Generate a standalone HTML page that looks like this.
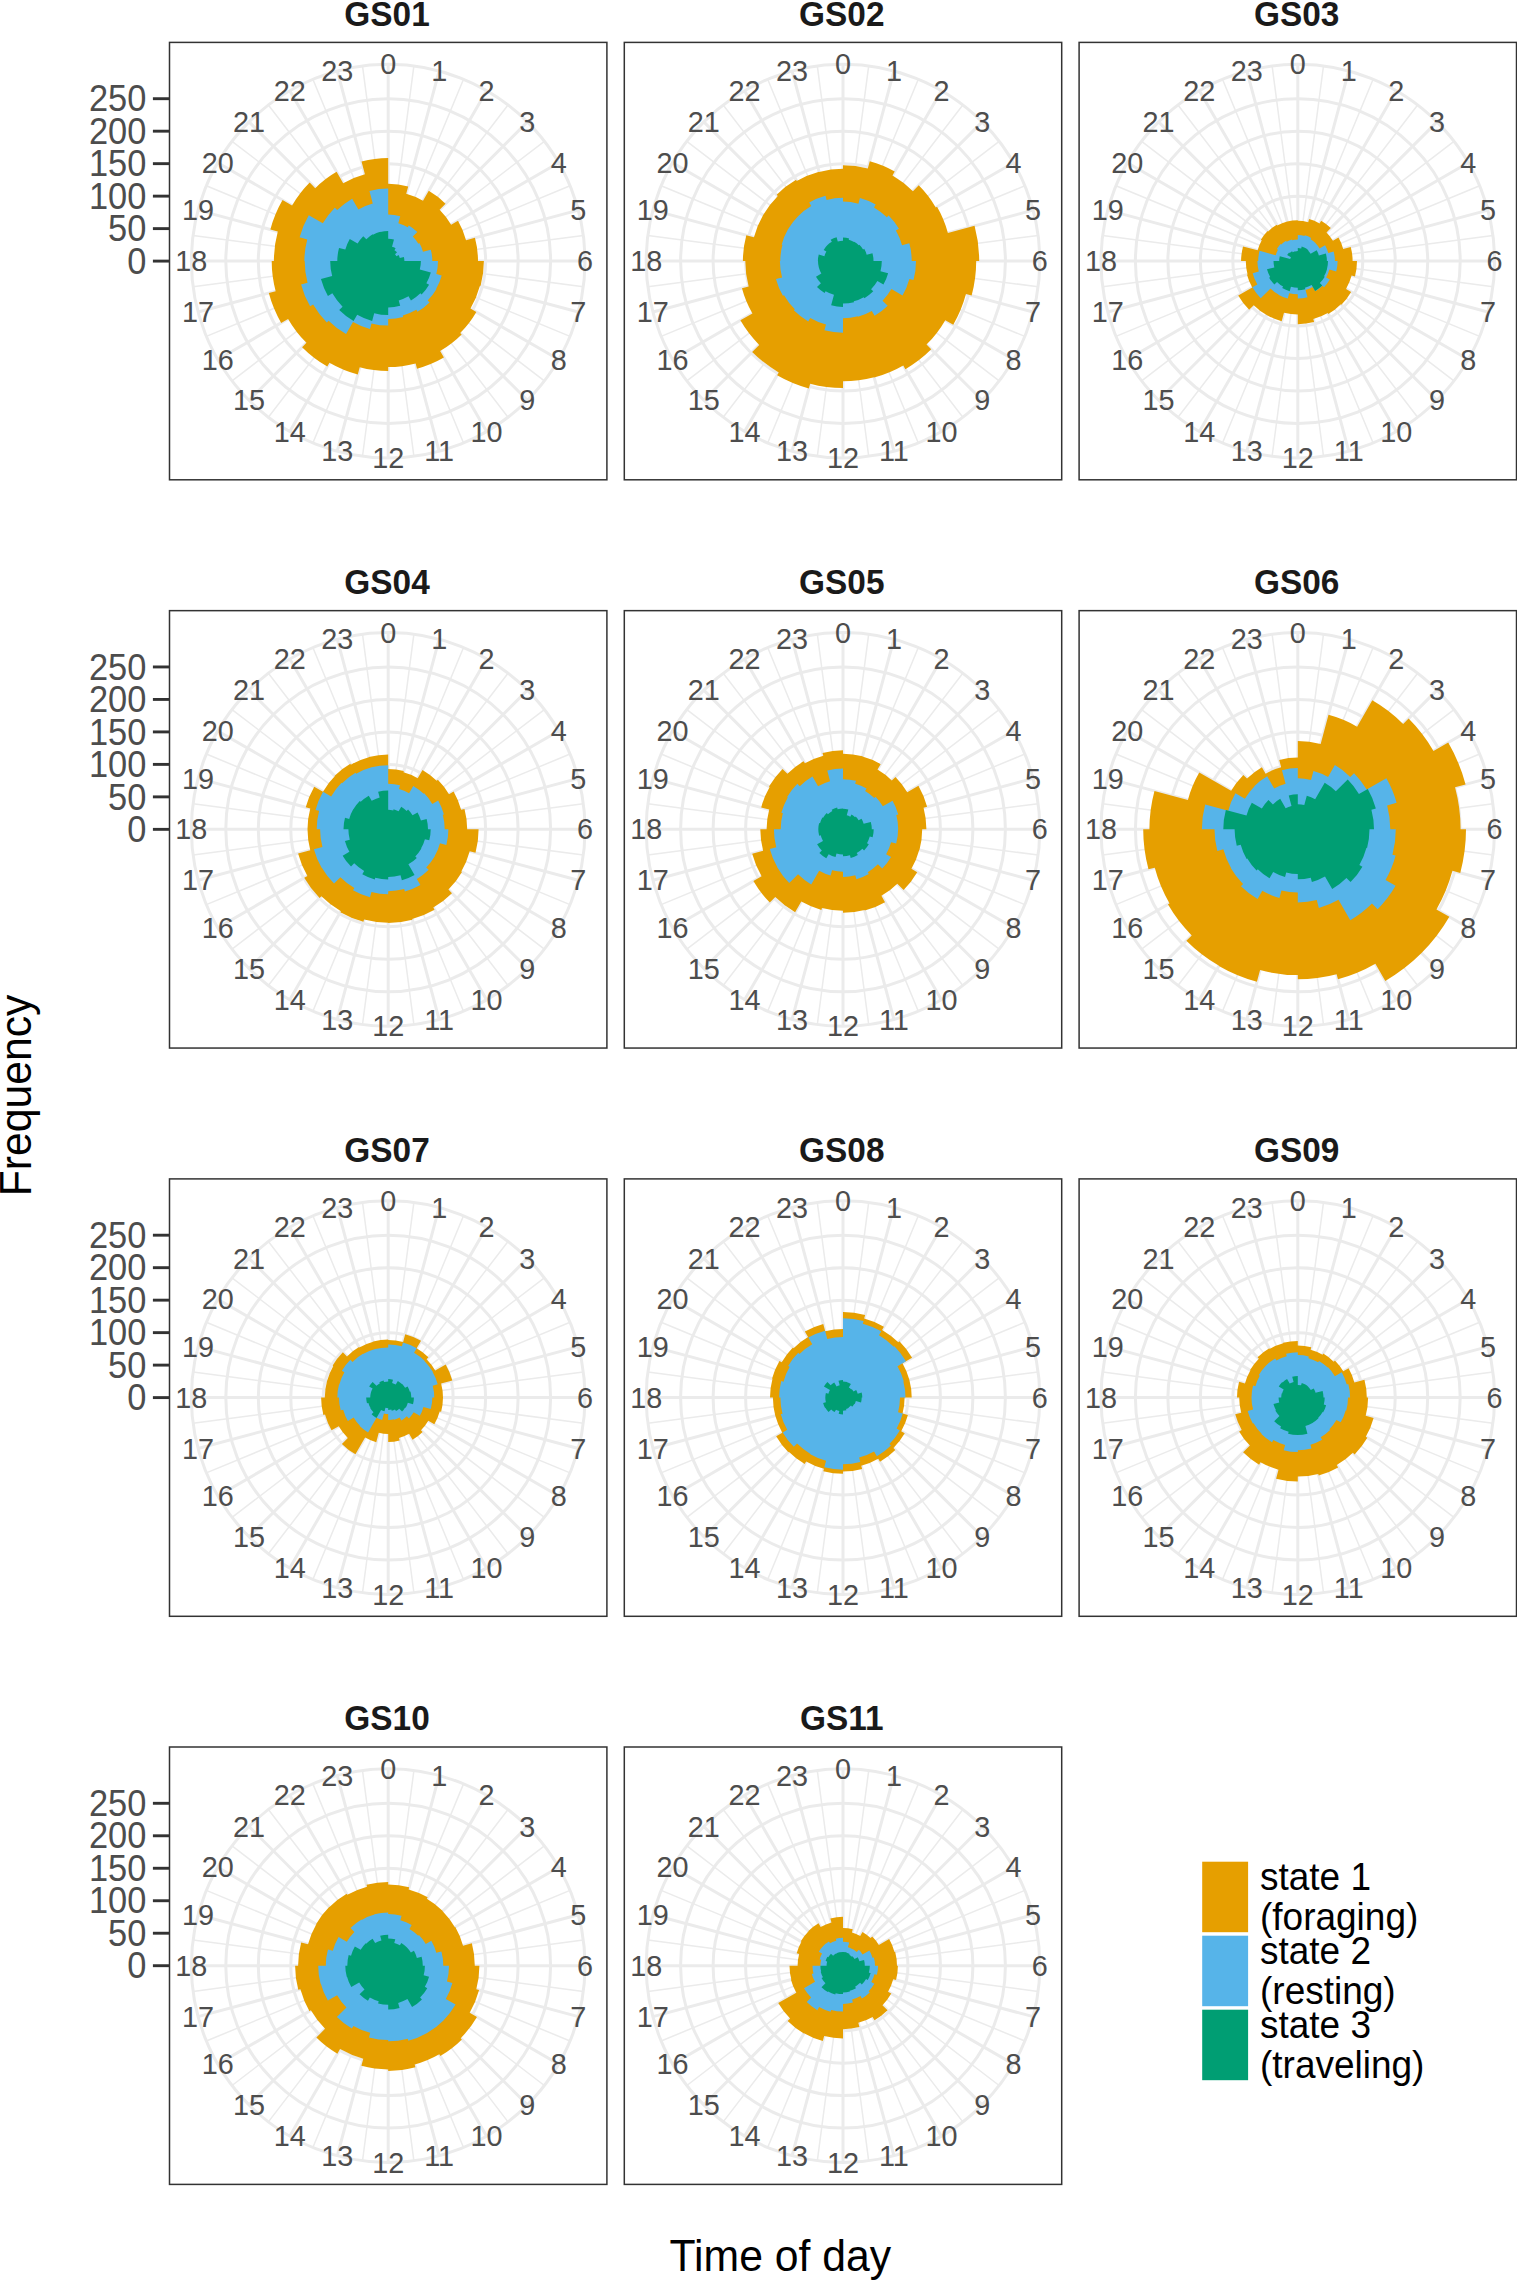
<!DOCTYPE html>
<html><head><meta charset="utf-8"><title>Activity budgets by time of day</title>
<style>
html,body{margin:0;padding:0;background:#fff}
svg{display:block}
text{font-family:"Liberation Sans",Arial,Helvetica,sans-serif}
.th{font-size:28.8px;fill:#4D4D4D;text-anchor:middle}
.ay{font-size:34.4px;fill:#4D4D4D;text-anchor:end}
.st{font-size:33.4px;font-weight:bold;fill:#1A1A1A;text-anchor:middle}
.at{font-size:42.7px;fill:#000;text-anchor:middle}
.lg{font-size:37px;fill:#000}
.gM{stroke:#EBEBEB;stroke-width:3;fill:none}
.gm{stroke:#EBEBEB;stroke-width:1.5;fill:none}
.tk{stroke:#333;stroke-width:2.9}
.bd{stroke:#333;stroke-width:1.5;fill:none}
</style></head><body>
<svg width="1517" height="2280" viewBox="0 0 1517 2280">
<rect width="1517" height="2280" fill="#fff"/>
<g id="GS01">
<g class="gM"><circle cx="388.2" cy="261.1" r="32.48"/><circle cx="388.2" cy="261.1" r="64.96"/><circle cx="388.2" cy="261.1" r="97.44"/><circle cx="388.2" cy="261.1" r="129.92"/><circle cx="388.2" cy="261.1" r="162.4"/><circle cx="388.2" cy="261.1" r="196.83"/><path d="M388.2 261.1L388.2 64.27M388.2 261.1L439.14 70.98M388.2 261.1L486.61 90.64M388.2 261.1L527.38 121.92M388.2 261.1L558.66 162.68M388.2 261.1L578.32 210.16M388.2 261.1L585.03 261.1M388.2 261.1L578.32 312.04M388.2 261.1L558.66 359.51M388.2 261.1L527.38 400.28M388.2 261.1L486.61 431.56M388.2 261.1L439.14 451.22M388.2 261.1L388.2 457.93M388.2 261.1L337.26 451.22M388.2 261.1L289.78 431.56M388.2 261.1L249.02 400.28M388.2 261.1L217.74 359.52M388.2 261.1L198.08 312.04M388.2 261.1L191.37 261.1M388.2 261.1L198.08 210.16M388.2 261.1L217.74 162.68M388.2 261.1L249.02 121.92M388.2 261.1L289.78 90.64M388.2 261.1L337.26 70.98"/></g>
<path class="gm" d="M388.2 261.1L413.89 65.95M388.2 261.1L463.52 79.25M388.2 261.1L508.02 104.94M388.2 261.1L544.36 141.28M388.2 261.1L570.05 185.78M388.2 261.1L583.35 235.41M388.2 261.1L583.35 286.79M388.2 261.1L570.05 336.42M388.2 261.1L544.36 380.92M388.2 261.1L508.02 417.26M388.2 261.1L463.52 442.95M388.2 261.1L413.89 456.25M388.2 261.1L362.51 456.25M388.2 261.1L312.88 442.95M388.2 261.1L268.38 417.26M388.2 261.1L232.04 380.92M388.2 261.1L206.35 336.42M388.2 261.1L193.05 286.79M388.2 261.1L193.05 235.41M388.2 261.1L206.35 185.78M388.2 261.1L232.04 141.28M388.2 261.1L268.38 104.94M388.2 261.1L312.88 79.25M388.2 261.1L362.51 65.95"/>
<path fill="#E69F00" d="M388.2 183.8A77.3 77.3 0 0 1 408.21 186.43L406.21 193.87A69.6 69.6 0 0 1 423 200.82L428.75 190.87A81.1 81.1 0 0 1 445.55 203.75L439.61 209.69A72.7 72.7 0 0 1 451.16 224.75L458 220.8A80.6 80.6 0 0 1 466.05 240.24L474.94 237.86A89.8 89.8 0 0 1 478 261.1L483.9 261.1A95.7 95.7 0 0 1 480.64 285.87L479.96 285.69A95 95 0 0 1 470.47 308.6L476.36 312A101.8 101.8 0 0 1 460.18 333.08L461.67 334.57A103.9 103.9 0 0 1 440.15 351.08L443.9 357.58A111.4 111.4 0 0 1 417.03 368.7L415.63 363.49A106 106 0 0 1 388.2 367.1L388.2 371.1A110 110 0 0 1 359.73 367.35L357.79 374.6A117.5 117.5 0 0 1 329.45 362.86L327.3 366.58A121.8 121.8 0 0 1 302.07 347.23L306.46 342.84A115.6 115.6 0 0 1 288.09 318.9L281.16 322.9A123.6 123.6 0 0 1 268.81 293.09L275.67 291.25A116.5 116.5 0 0 1 271.7 261.1L273.9 261.1A114.3 114.3 0 0 1 277.79 231.52L270.36 229.52A122 122 0 0 1 282.54 200.1L292.07 205.6A111 111 0 0 1 309.71 182.61L315.23 188.13A103.2 103.2 0 0 1 336.6 171.73L343.2 183.16A90 90 0 0 1 364.91 174.17L361.52 161.51A103.1 103.1 0 0 1 388.2 158L388.2 261.1Z"/>
<path fill="#56B4E9" d="M388.2 214.6A46.5 46.5 0 0 1 400.24 216.18L398.32 223.33A39.1 39.1 0 0 1 407.75 227.24L408.8 225.42A41.2 41.2 0 0 1 417.33 231.97L412.81 236.49A34.8 34.8 0 0 1 418.34 243.7L419.38 243.1A36 36 0 0 1 422.97 251.78L430.8 249.69A44.1 44.1 0 0 1 432.3 261.1L438 261.1A49.8 49.8 0 0 1 436.3 273.99L441.71 275.44A55.4 55.4 0 0 1 436.18 288.8L436.52 289A55.8 55.8 0 0 1 427.66 300.56L429.57 302.47A58.5 58.5 0 0 1 417.45 311.76L416.35 309.86A56.3 56.3 0 0 1 402.77 315.48L403.19 317.03A57.9 57.9 0 0 1 388.2 319L388.2 325.6A64.5 64.5 0 0 1 371.51 323.4L369.98 329.1A70.4 70.4 0 0 1 353 322.07L346.05 334.11A84.3 84.3 0 0 1 328.59 320.71L326.89 322.41A86.7 86.7 0 0 1 313.12 304.45L310.08 306.2A90.2 90.2 0 0 1 301.07 284.45L307.55 282.71A83.5 83.5 0 0 1 304.7 261.1L304.4 261.1A83.8 83.8 0 0 1 307.26 239.41L299.62 237.37A91.7 91.7 0 0 1 308.79 215.25L322.82 223.35A75.5 75.5 0 0 1 334.81 207.71L337.22 210.12A72.1 72.1 0 0 1 352.15 198.66L358.4 209.48A59.6 59.6 0 0 1 372.77 203.53L369.44 191.07A72.5 72.5 0 0 1 388.2 188.6L388.2 261.1Z"/>
<path fill="#009E73" d="M388.2 238.8A22.3 22.3 0 0 1 393.97 239.56L392.03 246.8A14.8 14.8 0 0 1 395.6 248.28L394.45 250.27A12.5 12.5 0 0 1 397.04 252.26L394.99 254.31A9.6 9.6 0 0 1 396.51 256.3L398.59 255.1A12 12 0 0 1 399.79 257.99L403.85 256.91A16.2 16.2 0 0 1 404.4 261.1L420.9 261.1A32.7 32.7 0 0 1 419.79 269.56L430.8 272.51A44.1 44.1 0 0 1 426.39 283.15L429.08 284.7A47.2 47.2 0 0 1 421.58 294.48L420.37 293.27A45.5 45.5 0 0 1 410.95 300.5L408.55 296.35A40.7 40.7 0 0 1 398.73 300.41L400.18 305.82A46.3 46.3 0 0 1 388.2 307.4L388.2 315.1A54 54 0 0 1 374.22 313.26L372.15 320.99A62 62 0 0 1 357.2 314.79L353.55 321.12A69.3 69.3 0 0 1 339.2 310.1L342.59 306.71A64.5 64.5 0 0 1 332.34 293.35L327.92 295.9A69.6 69.6 0 0 1 320.97 279.11L332.18 276.11A58 58 0 0 1 330.2 261.1L337.3 261.1A50.9 50.9 0 0 1 339.03 247.93L345.31 249.61A44.4 44.4 0 0 1 349.75 238.9L357.63 243.45A35.3 35.3 0 0 1 363.24 236.14L366.35 239.25A30.9 30.9 0 0 1 372.75 234.34L372.95 234.69A30.5 30.5 0 0 1 380.31 231.64L380.38 231.93A30.2 30.2 0 0 1 388.2 230.9L388.2 261.1Z"/>
<text class="th" transform="translate(388.2,74.37) scale(1,1.04)">0</text><text class="th" transform="translate(439.14,81.08) scale(1,1.04)">1</text><text class="th" transform="translate(486.61,100.74) scale(1,1.04)">2</text><text class="th" transform="translate(527.38,132.02) scale(1,1.04)">3</text><text class="th" transform="translate(558.66,172.78) scale(1,1.04)">4</text><text class="th" transform="translate(578.32,220.26) scale(1,1.04)">5</text><text class="th" transform="translate(585.03,271.2) scale(1,1.04)">6</text><text class="th" transform="translate(578.32,322.14) scale(1,1.04)">7</text><text class="th" transform="translate(558.66,369.61) scale(1,1.04)">8</text><text class="th" transform="translate(527.38,410.38) scale(1,1.04)">9</text><text class="th" transform="translate(486.61,441.66) scale(1,1.04)">10</text><text class="th" transform="translate(439.14,461.32) scale(1,1.04)">11</text><text class="th" transform="translate(388.2,468.03) scale(1,1.04)">12</text><text class="th" transform="translate(337.26,461.32) scale(1,1.04)">13</text><text class="th" transform="translate(289.78,441.66) scale(1,1.04)">14</text><text class="th" transform="translate(249.02,410.38) scale(1,1.04)">15</text><text class="th" transform="translate(217.74,369.62) scale(1,1.04)">16</text><text class="th" transform="translate(198.08,322.14) scale(1,1.04)">17</text><text class="th" transform="translate(191.37,271.2) scale(1,1.04)">18</text><text class="th" transform="translate(198.08,220.26) scale(1,1.04)">19</text><text class="th" transform="translate(217.74,172.78) scale(1,1.04)">20</text><text class="th" transform="translate(249.02,132.02) scale(1,1.04)">21</text><text class="th" transform="translate(289.78,100.74) scale(1,1.04)">22</text><text class="th" transform="translate(337.26,81.08) scale(1,1.04)">23</text>
<rect class="bd" x="169.5" y="42.4" width="437.4" height="437.4"/>
<text class="st" transform="translate(387,25.8) scale(1,1.06)">GS01</text>
<line class="tk" x1="152.9" y1="261.1" x2="169" y2="261.1"/><text class="ay" transform="translate(146.3,273.8) scale(1,1.08)">0</text><line class="tk" x1="152.9" y1="228.62" x2="169" y2="228.62"/><text class="ay" transform="translate(146.3,241.32) scale(1,1.08)">50</text><line class="tk" x1="152.9" y1="196.14" x2="169" y2="196.14"/><text class="ay" transform="translate(146.3,208.84) scale(1,1.08)">100</text><line class="tk" x1="152.9" y1="163.66" x2="169" y2="163.66"/><text class="ay" transform="translate(146.3,176.36) scale(1,1.08)">150</text><line class="tk" x1="152.9" y1="131.18" x2="169" y2="131.18"/><text class="ay" transform="translate(146.3,143.88) scale(1,1.08)">200</text><line class="tk" x1="152.9" y1="98.7" x2="169" y2="98.7"/><text class="ay" transform="translate(146.3,111.4) scale(1,1.08)">250</text>
</g>
<g id="GS02">
<g class="gM"><circle cx="843" cy="261.1" r="32.48"/><circle cx="843" cy="261.1" r="64.96"/><circle cx="843" cy="261.1" r="97.44"/><circle cx="843" cy="261.1" r="129.92"/><circle cx="843" cy="261.1" r="162.4"/><circle cx="843" cy="261.1" r="196.83"/><path d="M843 261.1L843 64.27M843 261.1L893.94 70.98M843 261.1L941.41 90.64M843 261.1L982.18 121.92M843 261.1L1013.46 162.68M843 261.1L1033.12 210.16M843 261.1L1039.83 261.1M843 261.1L1033.12 312.04M843 261.1L1013.46 359.51M843 261.1L982.18 400.28M843 261.1L941.41 431.56M843 261.1L893.94 451.22M843 261.1L843 457.93M843 261.1L792.06 451.22M843 261.1L744.59 431.56M843 261.1L703.82 400.28M843 261.1L672.54 359.52M843 261.1L652.88 312.04M843 261.1L646.17 261.1M843 261.1L652.88 210.16M843 261.1L672.54 162.68M843 261.1L703.82 121.92M843 261.1L744.58 90.64M843 261.1L792.06 70.98"/></g>
<path class="gm" d="M843 261.1L868.69 65.95M843 261.1L918.32 79.25M843 261.1L962.82 104.94M843 261.1L999.16 141.28M843 261.1L1024.85 185.78M843 261.1L1038.15 235.41M843 261.1L1038.15 286.79M843 261.1L1024.85 336.42M843 261.1L999.16 380.92M843 261.1L962.82 417.26M843 261.1L918.32 442.95M843 261.1L868.69 456.25M843 261.1L817.31 456.25M843 261.1L767.68 442.95M843 261.1L723.18 417.26M843 261.1L686.84 380.92M843 261.1L661.15 336.42M843 261.1L647.85 286.79M843 261.1L647.85 235.41M843 261.1L661.15 185.78M843 261.1L686.84 141.28M843 261.1L723.18 104.94M843 261.1L767.68 79.25M843 261.1L817.31 65.95"/>
<path fill="#E69F00" d="M843 165.3A95.8 95.8 0 0 1 867.79 168.56L869.79 161.13A103.5 103.5 0 0 1 894.75 171.47L892.45 175.45A98.9 98.9 0 0 1 912.93 191.17L918.73 185.37A107.1 107.1 0 0 1 935.75 207.55L937.05 206.8A108.6 108.6 0 0 1 947.9 232.99L974.56 225.85A136.2 136.2 0 0 1 979.2 261.1L976.2 261.1A133.2 133.2 0 0 1 971.66 295.57L965.96 294.05A127.3 127.3 0 0 1 953.25 324.75L945.28 320.15A118.1 118.1 0 0 1 926.51 344.61L931.25 349.35A124.8 124.8 0 0 1 905.4 369.18L903.25 365.46A120.5 120.5 0 0 1 874.19 377.49L874.11 377.2A120.2 120.2 0 0 1 843 381.3L843 388.1A127 127 0 0 1 810.13 383.77L808.89 388.41A131.8 131.8 0 0 1 777.1 375.24L778.75 372.38A128.5 128.5 0 0 1 752.14 351.96L759.21 344.89A118.5 118.5 0 0 1 740.38 320.35L752.41 313.4A104.6 104.6 0 0 1 741.96 288.17L748.63 286.39A97.7 97.7 0 0 1 745.3 261.1L742.9 261.1A100.1 100.1 0 0 1 746.31 235.19L753.94 237.24A92.2 92.2 0 0 1 763.15 215L763.15 215A92.2 92.2 0 0 1 777.8 195.9L776.67 194.77A93.8 93.8 0 0 1 796.1 179.87L796.7 180.91A92.6 92.6 0 0 1 819.03 171.66L819.11 171.95A92.3 92.3 0 0 1 843 168.8L843 261.1Z"/>
<path fill="#56B4E9" d="M843 201.6A59.5 59.5 0 0 1 858.4 203.63L859.93 197.93A65.4 65.4 0 0 1 875.7 204.46L874 207.41A62 62 0 0 1 886.84 217.26L888.68 215.42A64.6 64.6 0 0 1 898.95 228.8L895.91 230.55A61.1 61.1 0 0 1 902.02 245.29L909.36 243.32A68.7 68.7 0 0 1 911.7 261.1L916 261.1A73 73 0 0 1 913.51 279.99L909.36 278.88A68.7 68.7 0 0 1 902.5 295.45L891.41 289.05A55.9 55.9 0 0 1 882.53 300.63L887.69 305.79A63.2 63.2 0 0 1 874.6 315.83L871.8 310.98A57.6 57.6 0 0 1 857.91 316.74L857.78 316.25A57.1 57.1 0 0 1 843 318.2L843 332.8A71.7 71.7 0 0 1 824.44 330.36L826.02 324.46A65.6 65.6 0 0 1 810.2 317.91L808.2 321.38A69.6 69.6 0 0 1 793.79 310.31L794.85 309.25A68.1 68.1 0 0 1 784.02 295.15L782.9 295.8A69.4 69.4 0 0 1 775.96 279.06L782.05 277.43A63.1 63.1 0 0 1 779.9 261.1L780.3 261.1A62.7 62.7 0 0 1 782.44 244.87L781.66 244.66A63.5 63.5 0 0 1 788.01 229.35L788.01 229.35A63.5 63.5 0 0 1 798.1 216.2L798.1 216.2A63.5 63.5 0 0 1 811.25 206.11L809.2 202.56A67.6 67.6 0 0 1 825.5 195.8L826.62 199.96A63.3 63.3 0 0 1 843 197.8L843 261.1Z"/>
<path fill="#009E73" d="M843 237.6A23.5 23.5 0 0 1 849.08 238.4L848.72 239.75A22.1 22.1 0 0 1 854.05 241.96L854.15 241.79A22.3 22.3 0 0 1 858.77 245.33L859.4 244.7A23.2 23.2 0 0 1 863.09 249.5L864.22 248.85A24.5 24.5 0 0 1 866.67 254.76L872.46 253.21A30.5 30.5 0 0 1 873.5 261.1L881.8 261.1A38.8 38.8 0 0 1 880.48 271.14L888.11 273.19A46.7 46.7 0 0 1 883.44 284.45L877.38 280.95A39.7 39.7 0 0 1 871.07 289.17L873.26 291.36A42.8 42.8 0 0 1 864.4 298.17L863.8 297.13A41.6 41.6 0 0 1 853.77 301.28L854 302.15A42.5 42.5 0 0 1 843 303.6L843 306.9A45.8 45.8 0 0 1 831.15 305.34L833.97 294.81A34.9 34.9 0 0 1 825.55 291.32L824.6 292.97A36.8 36.8 0 0 1 816.98 287.12L820.94 283.16A31.2 31.2 0 0 1 815.98 276.7L821.35 273.6A25 25 0 0 1 818.85 267.57L818.85 267.57A25 25 0 0 1 818 261.1L817.9 261.1A25.1 25.1 0 0 1 818.76 254.6L824.45 256.13A19.2 19.2 0 0 1 826.37 251.5L823.69 249.95A22.3 22.3 0 0 1 827.23 245.33L827.23 245.33A22.3 22.3 0 0 1 831.85 241.79L830.65 239.71A24.7 24.7 0 0 1 836.61 237.24L837.75 241.49A20.3 20.3 0 0 1 843 240.8L843 261.1Z"/>
<text class="th" transform="translate(843,74.37) scale(1,1.04)">0</text><text class="th" transform="translate(893.94,81.08) scale(1,1.04)">1</text><text class="th" transform="translate(941.41,100.74) scale(1,1.04)">2</text><text class="th" transform="translate(982.18,132.02) scale(1,1.04)">3</text><text class="th" transform="translate(1013.46,172.78) scale(1,1.04)">4</text><text class="th" transform="translate(1033.12,220.26) scale(1,1.04)">5</text><text class="th" transform="translate(1039.83,271.2) scale(1,1.04)">6</text><text class="th" transform="translate(1033.12,322.14) scale(1,1.04)">7</text><text class="th" transform="translate(1013.46,369.61) scale(1,1.04)">8</text><text class="th" transform="translate(982.18,410.38) scale(1,1.04)">9</text><text class="th" transform="translate(941.41,441.66) scale(1,1.04)">10</text><text class="th" transform="translate(893.94,461.32) scale(1,1.04)">11</text><text class="th" transform="translate(843,468.03) scale(1,1.04)">12</text><text class="th" transform="translate(792.06,461.32) scale(1,1.04)">13</text><text class="th" transform="translate(744.59,441.66) scale(1,1.04)">14</text><text class="th" transform="translate(703.82,410.38) scale(1,1.04)">15</text><text class="th" transform="translate(672.54,369.62) scale(1,1.04)">16</text><text class="th" transform="translate(652.88,322.14) scale(1,1.04)">17</text><text class="th" transform="translate(646.17,271.2) scale(1,1.04)">18</text><text class="th" transform="translate(652.88,220.26) scale(1,1.04)">19</text><text class="th" transform="translate(672.54,172.78) scale(1,1.04)">20</text><text class="th" transform="translate(703.82,132.02) scale(1,1.04)">21</text><text class="th" transform="translate(744.58,100.74) scale(1,1.04)">22</text><text class="th" transform="translate(792.06,81.08) scale(1,1.04)">23</text>
<rect class="bd" x="624.3" y="42.4" width="437.4" height="437.4"/>
<text class="st" transform="translate(841.8,25.8) scale(1,1.06)">GS02</text>
</g>
<g id="GS03">
<g class="gM"><circle cx="1297.8" cy="261.1" r="32.48"/><circle cx="1297.8" cy="261.1" r="64.96"/><circle cx="1297.8" cy="261.1" r="97.44"/><circle cx="1297.8" cy="261.1" r="129.92"/><circle cx="1297.8" cy="261.1" r="162.4"/><circle cx="1297.8" cy="261.1" r="196.83"/><path d="M1297.8 261.1L1297.8 64.27M1297.8 261.1L1348.74 70.98M1297.8 261.1L1396.21 90.64M1297.8 261.1L1436.98 121.92M1297.8 261.1L1468.26 162.68M1297.8 261.1L1487.92 210.16M1297.8 261.1L1494.63 261.1M1297.8 261.1L1487.92 312.04M1297.8 261.1L1468.26 359.51M1297.8 261.1L1436.98 400.28M1297.8 261.1L1396.21 431.56M1297.8 261.1L1348.74 451.22M1297.8 261.1L1297.8 457.93M1297.8 261.1L1246.86 451.22M1297.8 261.1L1199.38 431.56M1297.8 261.1L1158.62 400.28M1297.8 261.1L1127.34 359.52M1297.8 261.1L1107.68 312.04M1297.8 261.1L1100.97 261.1M1297.8 261.1L1107.68 210.16M1297.8 261.1L1127.34 162.68M1297.8 261.1L1158.62 121.92M1297.8 261.1L1199.38 90.64M1297.8 261.1L1246.86 70.98"/></g>
<path class="gm" d="M1297.8 261.1L1323.49 65.95M1297.8 261.1L1373.12 79.25M1297.8 261.1L1417.62 104.94M1297.8 261.1L1453.96 141.28M1297.8 261.1L1479.65 185.78M1297.8 261.1L1492.95 235.41M1297.8 261.1L1492.95 286.79M1297.8 261.1L1479.65 336.42M1297.8 261.1L1453.96 380.92M1297.8 261.1L1417.62 417.26M1297.8 261.1L1373.12 442.95M1297.8 261.1L1323.49 456.25M1297.8 261.1L1272.11 456.25M1297.8 261.1L1222.48 442.95M1297.8 261.1L1177.98 417.26M1297.8 261.1L1141.64 380.92M1297.8 261.1L1115.95 336.42M1297.8 261.1L1102.65 286.79M1297.8 261.1L1102.65 235.41M1297.8 261.1L1115.95 185.78M1297.8 261.1L1141.64 141.28M1297.8 261.1L1177.98 104.94M1297.8 261.1L1222.48 79.25M1297.8 261.1L1272.11 65.95"/>
<path fill="#E69F00" d="M1297.8 220.8A40.3 40.3 0 0 1 1308.23 222.17L1309.06 219.08A43.5 43.5 0 0 1 1319.55 223.43L1321.15 220.66A46.7 46.7 0 0 1 1330.82 228.08L1326.51 232.39A40.6 40.6 0 0 1 1332.96 240.8L1338.5 237.6A47 47 0 0 1 1343.2 248.94L1350.73 246.92A54.8 54.8 0 0 1 1352.6 261.1L1357 261.1A59.2 59.2 0 0 1 1354.98 276.42L1351.6 275.52A55.7 55.7 0 0 1 1346.04 288.95L1351.15 291.9A61.6 61.6 0 0 1 1341.36 304.66L1340.93 304.23A61 61 0 0 1 1328.3 313.93L1327.8 313.06A60 60 0 0 1 1313.33 319.06L1314.13 322.05A63.1 63.1 0 0 1 1297.8 324.2L1297.8 314.5A53.4 53.4 0 0 1 1283.98 312.68L1281.68 321.28A62.3 62.3 0 0 1 1266.65 315.05L1266.65 315.05A62.3 62.3 0 0 1 1253.75 305.15L1249.15 309.75A68.8 68.8 0 0 1 1238.22 295.5L1252.25 287.4A52.6 52.6 0 0 1 1246.99 274.71L1247.57 274.56A52 52 0 0 1 1245.8 261.1L1241.1 261.1A56.7 56.7 0 0 1 1243.03 246.42L1257.62 250.33A41.6 41.6 0 0 1 1261.77 240.3L1260.82 239.75A42.7 42.7 0 0 1 1267.61 230.91L1268.1 231.4A42 42 0 0 1 1276.8 224.73L1277.3 225.59A41 41 0 0 1 1287.19 221.5L1287.21 221.59A40.9 40.9 0 0 1 1297.8 220.2L1297.8 261.1Z"/>
<path fill="#56B4E9" d="M1297.8 235A26.1 26.1 0 0 1 1304.56 235.89L1304.71 235.31A26.7 26.7 0 0 1 1311.15 237.98L1310.45 239.19A25.3 25.3 0 0 1 1315.69 243.21L1315.55 243.35A25.1 25.1 0 0 1 1319.54 248.55L1325.08 245.35A31.5 31.5 0 0 1 1328.23 252.95L1333.64 251.5A37.1 37.1 0 0 1 1334.9 261.1L1337.6 261.1A39.8 39.8 0 0 1 1336.24 271.4L1329.39 269.56A32.7 32.7 0 0 1 1326.12 277.45L1329.84 279.6A37 37 0 0 1 1323.96 287.26L1322.48 285.78A34.9 34.9 0 0 1 1315.25 291.32L1312.7 286.91A29.8 29.8 0 0 1 1305.51 289.88L1307.51 297.32A37.5 37.5 0 0 1 1297.8 298.6L1297.8 294.3A33.2 33.2 0 0 1 1289.21 293.17L1287.76 298.58A38.8 38.8 0 0 1 1278.4 294.7L1278.5 294.53A38.6 38.6 0 0 1 1270.51 288.39L1260.75 298.15A52.4 52.4 0 0 1 1252.42 287.3L1257.36 284.45A46.7 46.7 0 0 1 1252.69 273.19L1258.78 271.56A40.4 40.4 0 0 1 1257.4 261.1L1258.2 261.1A39.6 39.6 0 0 1 1259.55 250.85L1275.68 255.17A22.9 22.9 0 0 1 1277.97 249.65L1276.84 249A24.2 24.2 0 0 1 1280.69 243.99L1281.25 244.55A23.4 23.4 0 0 1 1286.1 240.84L1286.6 241.7A22.4 22.4 0 0 1 1292 239.46L1292.21 240.24A21.6 21.6 0 0 1 1297.8 239.5L1297.8 261.1Z"/>
<path fill="#009E73" d="M1297.8 248A13.1 13.1 0 0 1 1301.19 248.45L1301.71 246.51A15.1 15.1 0 0 1 1305.35 248.02L1305.35 248.02A15.1 15.1 0 0 1 1308.48 250.42L1308.27 250.63A14.8 14.8 0 0 1 1310.62 253.7L1316.68 250.2A21.8 21.8 0 0 1 1318.86 255.46L1325.91 253.57A29.1 29.1 0 0 1 1326.9 261.1L1328 261.1A30.2 30.2 0 0 1 1326.97 268.92L1327.07 268.94A30.3 30.3 0 0 1 1324.04 276.25L1324.73 276.65A31.1 31.1 0 0 1 1319.79 283.09L1322.27 285.57A34.6 34.6 0 0 1 1315.1 291.06L1311.65 285.09A27.7 27.7 0 0 1 1304.97 287.86L1305.33 289.21A29.1 29.1 0 0 1 1297.8 290.2L1297.8 287.7A26.6 26.6 0 0 1 1290.92 286.79L1289.72 291.24A31.2 31.2 0 0 1 1282.2 288.12L1283.1 286.56A29.4 29.4 0 0 1 1277.01 281.89L1274.39 284.51A33.1 33.1 0 0 1 1269.13 277.65L1270.17 277.05A31.9 31.9 0 0 1 1266.99 269.36L1274.33 267.39A24.3 24.3 0 0 1 1273.5 261.1L1279.2 261.1A18.6 18.6 0 0 1 1279.83 256.29L1290.17 259.06A7.9 7.9 0 0 1 1290.96 257.15L1287.15 254.95A12.3 12.3 0 0 1 1289.1 252.4L1289.81 253.11A11.3 11.3 0 0 1 1292.15 251.31L1292.65 252.18A10.3 10.3 0 0 1 1295.13 251.15L1295.21 251.44A10 10 0 0 1 1297.8 251.1L1297.8 261.1Z"/>
<text class="th" transform="translate(1297.8,74.37) scale(1,1.04)">0</text><text class="th" transform="translate(1348.74,81.08) scale(1,1.04)">1</text><text class="th" transform="translate(1396.21,100.74) scale(1,1.04)">2</text><text class="th" transform="translate(1436.98,132.02) scale(1,1.04)">3</text><text class="th" transform="translate(1468.26,172.78) scale(1,1.04)">4</text><text class="th" transform="translate(1487.92,220.26) scale(1,1.04)">5</text><text class="th" transform="translate(1494.63,271.2) scale(1,1.04)">6</text><text class="th" transform="translate(1487.92,322.14) scale(1,1.04)">7</text><text class="th" transform="translate(1468.26,369.61) scale(1,1.04)">8</text><text class="th" transform="translate(1436.98,410.38) scale(1,1.04)">9</text><text class="th" transform="translate(1396.21,441.66) scale(1,1.04)">10</text><text class="th" transform="translate(1348.74,461.32) scale(1,1.04)">11</text><text class="th" transform="translate(1297.8,468.03) scale(1,1.04)">12</text><text class="th" transform="translate(1246.86,461.32) scale(1,1.04)">13</text><text class="th" transform="translate(1199.38,441.66) scale(1,1.04)">14</text><text class="th" transform="translate(1158.62,410.38) scale(1,1.04)">15</text><text class="th" transform="translate(1127.34,369.62) scale(1,1.04)">16</text><text class="th" transform="translate(1107.68,322.14) scale(1,1.04)">17</text><text class="th" transform="translate(1100.97,271.2) scale(1,1.04)">18</text><text class="th" transform="translate(1107.68,220.26) scale(1,1.04)">19</text><text class="th" transform="translate(1127.34,172.78) scale(1,1.04)">20</text><text class="th" transform="translate(1158.62,132.02) scale(1,1.04)">21</text><text class="th" transform="translate(1199.38,100.74) scale(1,1.04)">22</text><text class="th" transform="translate(1246.86,81.08) scale(1,1.04)">23</text>
<rect class="bd" x="1079.1" y="42.4" width="437.4" height="437.4"/>
<text class="st" transform="translate(1296.6,25.8) scale(1,1.06)">GS03</text>
</g>
<g id="GS04">
<g class="gM"><circle cx="388.2" cy="829.35" r="32.48"/><circle cx="388.2" cy="829.35" r="64.96"/><circle cx="388.2" cy="829.35" r="97.44"/><circle cx="388.2" cy="829.35" r="129.92"/><circle cx="388.2" cy="829.35" r="162.4"/><circle cx="388.2" cy="829.35" r="196.83"/><path d="M388.2 829.35L388.2 632.52M388.2 829.35L439.14 639.23M388.2 829.35L486.61 658.89M388.2 829.35L527.38 690.17M388.2 829.35L558.66 730.93M388.2 829.35L578.32 778.41M388.2 829.35L585.03 829.35M388.2 829.35L578.32 880.29M388.2 829.35L558.66 927.76M388.2 829.35L527.38 968.53M388.2 829.35L486.61 999.81M388.2 829.35L439.14 1019.47M388.2 829.35L388.2 1026.18M388.2 829.35L337.26 1019.47M388.2 829.35L289.78 999.81M388.2 829.35L249.02 968.53M388.2 829.35L217.74 927.76M388.2 829.35L198.08 880.29M388.2 829.35L191.37 829.35M388.2 829.35L198.08 778.41M388.2 829.35L217.74 730.93M388.2 829.35L249.02 690.17M388.2 829.35L289.78 658.89M388.2 829.35L337.26 639.23"/></g>
<path class="gm" d="M388.2 829.35L413.89 634.2M388.2 829.35L463.52 647.5M388.2 829.35L508.02 673.19M388.2 829.35L544.36 709.53M388.2 829.35L570.05 754.03M388.2 829.35L583.35 803.66M388.2 829.35L583.35 855.04M388.2 829.35L570.05 904.67M388.2 829.35L544.36 949.17M388.2 829.35L508.02 985.51M388.2 829.35L463.52 1011.2M388.2 829.35L413.89 1024.5M388.2 829.35L362.51 1024.5M388.2 829.35L312.88 1011.2M388.2 829.35L268.38 985.51M388.2 829.35L232.04 949.17M388.2 829.35L206.35 904.67M388.2 829.35L193.05 855.04M388.2 829.35L193.05 803.66M388.2 829.35L206.35 754.03M388.2 829.35L232.04 709.53M388.2 829.35L268.38 673.19M388.2 829.35L312.88 647.5M388.2 829.35L362.51 634.2"/>
<path fill="#E69F00" d="M388.2 768.95A60.4 60.4 0 0 1 403.83 771.01L403.47 772.36A59 59 0 0 1 417.7 778.25L422.5 769.94A68.6 68.6 0 0 1 436.71 780.84L437.84 779.71A70.2 70.2 0 0 1 448.99 794.25L453.58 791.6A75.5 75.5 0 0 1 461.13 809.81L464.51 808.9A79 79 0 0 1 467.2 829.35L478.6 829.35A90.4 90.4 0 0 1 475.52 852.75L469.72 851.19A84.4 84.4 0 0 1 461.29 871.55L461.99 871.95A85.2 85.2 0 0 1 448.45 889.6L451.98 893.13A90.2 90.2 0 0 1 433.3 907.47L434.55 909.63A92.7 92.7 0 0 1 412.19 918.89L412.43 919.76A93.6 93.6 0 0 1 388.2 922.95L388.2 922.75A93.4 93.4 0 0 1 364.03 919.57L363.43 921.79A95.7 95.7 0 0 1 340.35 912.23L340.95 911.19A94.5 94.5 0 0 1 321.38 896.17L319.61 897.94A97 97 0 0 1 304.2 877.85L307.4 876A93.3 93.3 0 0 1 298.08 853.5L310.25 850.24A80.7 80.7 0 0 1 307.5 829.35L307.5 829.35A80.7 80.7 0 0 1 310.25 808.46L305.71 807.25A85.4 85.4 0 0 1 314.24 786.65L322.99 791.7A75.3 75.3 0 0 1 334.95 776.1L334.67 775.82A75.7 75.7 0 0 1 350.35 763.79L350.85 764.66A74.7 74.7 0 0 1 368.87 757.2L368.81 757A74.9 74.9 0 0 1 388.2 754.45L388.2 829.35Z"/>
<path fill="#56B4E9" d="M388.2 783.65A45.7 45.7 0 0 1 400.03 785.21L399.02 788.97A41.8 41.8 0 0 1 409.1 793.15L413.3 785.88A50.2 50.2 0 0 1 423.7 793.85L424.19 793.36A50.9 50.9 0 0 1 432.28 803.9L438.17 800.5A57.7 57.7 0 0 1 443.93 814.42L442.77 814.73A56.5 56.5 0 0 1 444.7 829.35L448.4 829.35A60.2 60.2 0 0 1 446.35 844.93L439.97 843.22A53.6 53.6 0 0 1 434.62 856.15L434.79 856.25A53.8 53.8 0 0 1 426.24 867.39L428.72 869.87A57.3 57.3 0 0 1 416.85 878.97L420.35 885.04A64.3 64.3 0 0 1 404.84 891.46L404.2 889.04A61.8 61.8 0 0 1 388.2 891.15L388.2 894.15A64.8 64.8 0 0 1 371.43 891.94L369.98 897.35A70.4 70.4 0 0 1 353 890.32L354.4 887.89A67.6 67.6 0 0 1 340.4 877.15L334.04 883.51A76.6 76.6 0 0 1 321.86 867.65L321.6 867.8A76.9 76.9 0 0 1 313.92 849.25L322.42 846.98A68.1 68.1 0 0 1 320.1 829.35L316.7 829.35A71.5 71.5 0 0 1 319.14 810.84L315.56 809.89A75.2 75.2 0 0 1 323.07 791.75L331.13 796.4A65.9 65.9 0 0 1 341.6 782.75L342.03 783.18A65.3 65.3 0 0 1 355.55 772.8L356.1 773.75A64.2 64.2 0 0 1 371.58 767.34L371.58 767.34A64.2 64.2 0 0 1 388.2 765.15L388.2 829.35Z"/>
<path fill="#009E73" d="M388.2 809.75A19.6 19.6 0 0 1 393.27 810.42L393.58 809.26A20.8 20.8 0 0 1 398.6 811.34L401.25 806.75A26.1 26.1 0 0 1 406.66 810.89L408.07 809.48A28.1 28.1 0 0 1 412.54 815.3L417.56 812.4A33.9 33.9 0 0 1 420.94 820.58L426.64 819.05A39.8 39.8 0 0 1 428 829.35L430.7 829.35A42.5 42.5 0 0 1 429.25 840.35L424.91 839.19A38 38 0 0 1 421.11 848.35L421.37 848.5A38.3 38.3 0 0 1 415.28 856.43L416.77 857.92A40.4 40.4 0 0 1 408.4 864.34L414.55 874.99A52.7 52.7 0 0 1 401.84 880.25L400.52 875.33A47.6 47.6 0 0 1 388.2 876.95L388.2 879.45A50.1 50.1 0 0 1 375.23 877.74L374.79 879.38A51.8 51.8 0 0 1 362.3 874.21L364.15 871.01A48.1 48.1 0 0 1 354.19 863.36L351.01 866.54A52.6 52.6 0 0 1 342.65 855.65L349.4 851.75A44.8 44.8 0 0 1 344.93 840.95L349.76 839.65A39.8 39.8 0 0 1 348.4 829.35L343.5 829.35A44.7 44.7 0 0 1 345.02 817.78L349.18 818.89A40.4 40.4 0 0 1 353.21 809.15L353.39 809.25A40.2 40.2 0 0 1 359.77 800.92L360.69 801.84A38.9 38.9 0 0 1 368.75 795.66L371.7 800.77A33 33 0 0 1 379.66 797.47L378.13 791.78A38.9 38.9 0 0 1 388.2 790.45L388.2 829.35Z"/>
<text class="th" transform="translate(388.2,642.62) scale(1,1.04)">0</text><text class="th" transform="translate(439.14,649.33) scale(1,1.04)">1</text><text class="th" transform="translate(486.61,668.99) scale(1,1.04)">2</text><text class="th" transform="translate(527.38,700.27) scale(1,1.04)">3</text><text class="th" transform="translate(558.66,741.03) scale(1,1.04)">4</text><text class="th" transform="translate(578.32,788.51) scale(1,1.04)">5</text><text class="th" transform="translate(585.03,839.45) scale(1,1.04)">6</text><text class="th" transform="translate(578.32,890.39) scale(1,1.04)">7</text><text class="th" transform="translate(558.66,937.86) scale(1,1.04)">8</text><text class="th" transform="translate(527.38,978.63) scale(1,1.04)">9</text><text class="th" transform="translate(486.61,1009.91) scale(1,1.04)">10</text><text class="th" transform="translate(439.14,1029.57) scale(1,1.04)">11</text><text class="th" transform="translate(388.2,1036.28) scale(1,1.04)">12</text><text class="th" transform="translate(337.26,1029.57) scale(1,1.04)">13</text><text class="th" transform="translate(289.78,1009.91) scale(1,1.04)">14</text><text class="th" transform="translate(249.02,978.63) scale(1,1.04)">15</text><text class="th" transform="translate(217.74,937.87) scale(1,1.04)">16</text><text class="th" transform="translate(198.08,890.39) scale(1,1.04)">17</text><text class="th" transform="translate(191.37,839.45) scale(1,1.04)">18</text><text class="th" transform="translate(198.08,788.51) scale(1,1.04)">19</text><text class="th" transform="translate(217.74,741.03) scale(1,1.04)">20</text><text class="th" transform="translate(249.02,700.27) scale(1,1.04)">21</text><text class="th" transform="translate(289.78,668.99) scale(1,1.04)">22</text><text class="th" transform="translate(337.26,649.33) scale(1,1.04)">23</text>
<rect class="bd" x="169.5" y="610.65" width="437.4" height="437.4"/>
<text class="st" transform="translate(387,594.05) scale(1,1.06)">GS04</text>
<line class="tk" x1="152.9" y1="829.35" x2="169" y2="829.35"/><text class="ay" transform="translate(146.3,842.05) scale(1,1.08)">0</text><line class="tk" x1="152.9" y1="796.87" x2="169" y2="796.87"/><text class="ay" transform="translate(146.3,809.57) scale(1,1.08)">50</text><line class="tk" x1="152.9" y1="764.39" x2="169" y2="764.39"/><text class="ay" transform="translate(146.3,777.09) scale(1,1.08)">100</text><line class="tk" x1="152.9" y1="731.91" x2="169" y2="731.91"/><text class="ay" transform="translate(146.3,744.61) scale(1,1.08)">150</text><line class="tk" x1="152.9" y1="699.43" x2="169" y2="699.43"/><text class="ay" transform="translate(146.3,712.13) scale(1,1.08)">200</text><line class="tk" x1="152.9" y1="666.95" x2="169" y2="666.95"/><text class="ay" transform="translate(146.3,679.65) scale(1,1.08)">250</text>
</g>
<g id="GS05">
<g class="gM"><circle cx="843" cy="829.35" r="32.48"/><circle cx="843" cy="829.35" r="64.96"/><circle cx="843" cy="829.35" r="97.44"/><circle cx="843" cy="829.35" r="129.92"/><circle cx="843" cy="829.35" r="162.4"/><circle cx="843" cy="829.35" r="196.83"/><path d="M843 829.35L843 632.52M843 829.35L893.94 639.23M843 829.35L941.41 658.89M843 829.35L982.18 690.17M843 829.35L1013.46 730.93M843 829.35L1033.12 778.41M843 829.35L1039.83 829.35M843 829.35L1033.12 880.29M843 829.35L1013.46 927.76M843 829.35L982.18 968.53M843 829.35L941.41 999.81M843 829.35L893.94 1019.47M843 829.35L843 1026.18M843 829.35L792.06 1019.47M843 829.35L744.59 999.81M843 829.35L703.82 968.53M843 829.35L672.54 927.76M843 829.35L652.88 880.29M843 829.35L646.17 829.35M843 829.35L652.88 778.41M843 829.35L672.54 730.93M843 829.35L703.82 690.17M843 829.35L744.58 658.89M843 829.35L792.06 639.23"/></g>
<path class="gm" d="M843 829.35L868.69 634.2M843 829.35L918.32 647.5M843 829.35L962.82 673.19M843 829.35L999.16 709.53M843 829.35L1024.85 754.03M843 829.35L1038.15 803.66M843 829.35L1038.15 855.04M843 829.35L1024.85 904.67M843 829.35L999.16 949.17M843 829.35L962.82 985.51M843 829.35L918.32 1011.2M843 829.35L868.69 1024.5M843 829.35L817.31 1024.5M843 829.35L767.68 1011.2M843 829.35L723.18 985.51M843 829.35L686.84 949.17M843 829.35L661.15 904.67M843 829.35L647.85 855.04M843 829.35L647.85 803.66M843 829.35L661.15 754.03M843 829.35L686.84 709.53M843 829.35L723.18 673.19M843 829.35L767.68 647.5M843 829.35L817.31 634.2"/>
<path fill="#E69F00" d="M843 753.65A75.7 75.7 0 0 1 862.59 756.23L862.49 756.62A75.3 75.3 0 0 1 880.65 764.14L877.5 769.59A69 69 0 0 1 891.79 780.56L895.47 776.88A74.2 74.2 0 0 1 907.26 792.25L918.43 785.8A87.1 87.1 0 0 1 927.13 806.81L923.56 807.76A83.4 83.4 0 0 1 926.4 829.35L922.2 829.35A79.2 79.2 0 0 1 919.5 849.85L919.31 849.8A79 79 0 0 1 911.42 868.85L917.22 872.2A85.7 85.7 0 0 1 903.6 889.95L897.31 883.66A76.8 76.8 0 0 1 881.4 895.86L885.05 902.18A84.1 84.1 0 0 1 864.77 910.58L864.59 909.91A83.4 83.4 0 0 1 843 912.75L843 910.65A81.3 81.3 0 0 1 821.96 907.88L821.41 909.91A83.4 83.4 0 0 1 801.3 901.58L795.1 912.32A95.8 95.8 0 0 1 775.26 897.09L769.81 902.54A103.5 103.5 0 0 1 753.37 881.1L761.59 876.35A94 94 0 0 1 752.2 853.68L763.12 850.75A82.7 82.7 0 0 1 760.3 829.35L766.6 829.35A76.4 76.4 0 0 1 769.2 809.58L761.19 807.43A84.7 84.7 0 0 1 769.65 787L768.95 786.6A85.5 85.5 0 0 1 782.54 768.89L787.42 773.77A78.6 78.6 0 0 1 803.7 761.28L804.9 763.36A76.2 76.2 0 0 1 823.28 755.75L822.53 752.95A79.1 79.1 0 0 1 843 750.25L843 829.35Z"/>
<path fill="#56B4E9" d="M843 779.15A50.2 50.2 0 0 1 855.99 780.86L855.19 783.85A47.1 47.1 0 0 1 866.55 788.56L865.1 791.07A44.2 44.2 0 0 1 874.25 798.1L875.53 796.82A46 46 0 0 1 882.84 806.35L892.54 800.75A57.2 57.2 0 0 1 898.25 814.55L896.32 815.06A55.2 55.2 0 0 1 898.2 829.35L898.1 829.35A55.1 55.1 0 0 1 896.22 843.61L891.1 842.24A49.8 49.8 0 0 1 886.13 854.25L891.06 857.1A55.5 55.5 0 0 1 882.24 868.59L877.93 864.28A49.4 49.4 0 0 1 867.7 872.13L868.85 874.12A51.7 51.7 0 0 1 856.38 879.29L855.32 875.33A47.6 47.6 0 0 1 843 876.95L843 871.65A42.3 42.3 0 0 1 832.05 870.21L830.65 875.42A47.7 47.7 0 0 1 819.15 870.66L811.2 884.43A63.6 63.6 0 0 1 798.03 874.32L789.26 883.09A76 76 0 0 1 777.18 867.35L777.36 867.25A75.8 75.8 0 0 1 769.78 848.97L776.25 847.23A69.1 69.1 0 0 1 773.9 829.35L780.7 829.35A62.3 62.3 0 0 1 782.82 813.23L781.37 812.84A63.8 63.8 0 0 1 787.75 797.45L787.14 797.1A64.5 64.5 0 0 1 797.39 783.74L799.8 786.15A61.1 61.1 0 0 1 812.45 776.44L818.05 786.14A49.9 49.9 0 0 1 830.08 781.15L827.26 770.62A60.8 60.8 0 0 1 843 768.55L843 829.35Z"/>
<path fill="#009E73" d="M843 808.75A20.6 20.6 0 0 1 848.33 809.45L846.75 815.34A14.5 14.5 0 0 1 850.25 816.79L851.55 814.54A17.1 17.1 0 0 1 855.09 817.26L855.73 816.62A18 18 0 0 1 858.59 820.35L861.53 818.65A21.4 21.4 0 0 1 863.67 823.81L870.82 821.9A28.8 28.8 0 0 1 871.8 829.35L873.7 829.35A30.7 30.7 0 0 1 872.65 837.3L869.76 836.52A27.7 27.7 0 0 1 866.99 843.2L868.81 844.25A29.8 29.8 0 0 1 864.07 850.42L862.37 848.72A27.4 27.4 0 0 1 856.7 853.08L857.85 855.07A29.7 29.7 0 0 1 850.69 858.04L849.96 855.33A26.9 26.9 0 0 1 843 856.25L843 854.45A25.1 25.1 0 0 1 836.5 853.59L835.57 857.07A28.7 28.7 0 0 1 828.65 854.2L826.3 858.28A33.4 33.4 0 0 1 819.38 852.97L821.86 850.49A29.9 29.9 0 0 1 817.11 844.3L822.99 840.9A23.1 23.1 0 0 1 820.69 835.33L819.14 835.74A24.7 24.7 0 0 1 818.3 829.35L818.3 829.35A24.7 24.7 0 0 1 819.14 822.96L820.01 823.19A23.8 23.8 0 0 1 822.39 817.45L823.08 817.85A23 23 0 0 1 826.74 813.09L827.94 814.29A21.3 21.3 0 0 1 832.35 810.9L831.7 809.78A22.6 22.6 0 0 1 837.15 807.52L837.62 809.26A20.8 20.8 0 0 1 843 808.55L843 829.35Z"/>
<text class="th" transform="translate(843,642.62) scale(1,1.04)">0</text><text class="th" transform="translate(893.94,649.33) scale(1,1.04)">1</text><text class="th" transform="translate(941.41,668.99) scale(1,1.04)">2</text><text class="th" transform="translate(982.18,700.27) scale(1,1.04)">3</text><text class="th" transform="translate(1013.46,741.03) scale(1,1.04)">4</text><text class="th" transform="translate(1033.12,788.51) scale(1,1.04)">5</text><text class="th" transform="translate(1039.83,839.45) scale(1,1.04)">6</text><text class="th" transform="translate(1033.12,890.39) scale(1,1.04)">7</text><text class="th" transform="translate(1013.46,937.86) scale(1,1.04)">8</text><text class="th" transform="translate(982.18,978.63) scale(1,1.04)">9</text><text class="th" transform="translate(941.41,1009.91) scale(1,1.04)">10</text><text class="th" transform="translate(893.94,1029.57) scale(1,1.04)">11</text><text class="th" transform="translate(843,1036.28) scale(1,1.04)">12</text><text class="th" transform="translate(792.06,1029.57) scale(1,1.04)">13</text><text class="th" transform="translate(744.59,1009.91) scale(1,1.04)">14</text><text class="th" transform="translate(703.82,978.63) scale(1,1.04)">15</text><text class="th" transform="translate(672.54,937.87) scale(1,1.04)">16</text><text class="th" transform="translate(652.88,890.39) scale(1,1.04)">17</text><text class="th" transform="translate(646.17,839.45) scale(1,1.04)">18</text><text class="th" transform="translate(652.88,788.51) scale(1,1.04)">19</text><text class="th" transform="translate(672.54,741.03) scale(1,1.04)">20</text><text class="th" transform="translate(703.82,700.27) scale(1,1.04)">21</text><text class="th" transform="translate(744.58,668.99) scale(1,1.04)">22</text><text class="th" transform="translate(792.06,649.33) scale(1,1.04)">23</text>
<rect class="bd" x="624.3" y="610.65" width="437.4" height="437.4"/>
<text class="st" transform="translate(841.8,594.05) scale(1,1.06)">GS05</text>
</g>
<g id="GS06">
<g class="gM"><circle cx="1297.8" cy="829.35" r="32.48"/><circle cx="1297.8" cy="829.35" r="64.96"/><circle cx="1297.8" cy="829.35" r="97.44"/><circle cx="1297.8" cy="829.35" r="129.92"/><circle cx="1297.8" cy="829.35" r="162.4"/><circle cx="1297.8" cy="829.35" r="196.83"/><path d="M1297.8 829.35L1297.8 632.52M1297.8 829.35L1348.74 639.23M1297.8 829.35L1396.21 658.89M1297.8 829.35L1436.98 690.17M1297.8 829.35L1468.26 730.93M1297.8 829.35L1487.92 778.41M1297.8 829.35L1494.63 829.35M1297.8 829.35L1487.92 880.29M1297.8 829.35L1468.26 927.76M1297.8 829.35L1436.98 968.53M1297.8 829.35L1396.21 999.81M1297.8 829.35L1348.74 1019.47M1297.8 829.35L1297.8 1026.18M1297.8 829.35L1246.86 1019.47M1297.8 829.35L1199.38 999.81M1297.8 829.35L1158.62 968.53M1297.8 829.35L1127.34 927.76M1297.8 829.35L1107.68 880.29M1297.8 829.35L1100.97 829.35M1297.8 829.35L1107.68 778.41M1297.8 829.35L1127.34 730.93M1297.8 829.35L1158.62 690.17M1297.8 829.35L1199.38 658.89M1297.8 829.35L1246.86 639.23"/></g>
<path class="gm" d="M1297.8 829.35L1323.49 634.2M1297.8 829.35L1373.12 647.5M1297.8 829.35L1417.62 673.19M1297.8 829.35L1453.96 709.53M1297.8 829.35L1479.65 754.03M1297.8 829.35L1492.95 803.66M1297.8 829.35L1492.95 855.04M1297.8 829.35L1479.65 904.67M1297.8 829.35L1453.96 949.17M1297.8 829.35L1417.62 985.51M1297.8 829.35L1373.12 1011.2M1297.8 829.35L1323.49 1024.5M1297.8 829.35L1272.11 1024.5M1297.8 829.35L1222.48 1011.2M1297.8 829.35L1177.98 985.51M1297.8 829.35L1141.64 949.17M1297.8 829.35L1115.95 904.67M1297.8 829.35L1102.65 855.04M1297.8 829.35L1102.65 803.66M1297.8 829.35L1115.95 754.03M1297.8 829.35L1141.64 709.53M1297.8 829.35L1177.98 673.19M1297.8 829.35L1222.48 647.5M1297.8 829.35L1272.11 634.2"/>
<path fill="#E69F00" d="M1297.8 741.05A88.3 88.3 0 0 1 1320.65 744.06L1328.5 714.79A118.6 118.6 0 0 1 1357.1 726.64L1372.3 700.31A149 149 0 0 1 1403.16 723.99L1408.6 718.55A156.7 156.7 0 0 1 1433.51 751L1448.23 742.5A173.7 173.7 0 0 1 1465.58 784.39L1455.05 787.21A162.8 162.8 0 0 1 1460.6 829.35L1466 829.35A168.2 168.2 0 0 1 1460.27 872.88L1452.44 870.79A160.1 160.1 0 0 1 1436.45 909.4L1449.35 916.85A175 175 0 0 1 1421.54 953.09L1421.54 953.09A175 175 0 0 1 1385.3 980.9L1375.4 963.76A155.2 155.2 0 0 1 1337.97 979.26L1336.62 974.24A150 150 0 0 1 1297.8 979.35L1297.8 975.05A145.7 145.7 0 0 1 1260.09 970.09L1256.93 981.87A157.9 157.9 0 0 1 1218.85 966.1L1219 965.84A157.6 157.6 0 0 1 1186.36 940.79L1191.73 935.42A150 150 0 0 1 1167.9 904.35L1169.54 903.4A148.1 148.1 0 0 1 1154.75 867.68L1148.47 869.36A154.6 154.6 0 0 1 1143.2 829.35L1149.4 829.35A148.4 148.4 0 0 1 1154.46 790.94L1187.88 799.9A113.8 113.8 0 0 1 1199.25 772.45L1231.12 790.85A77 77 0 0 1 1243.35 774.9L1247.03 778.58A71.8 71.8 0 0 1 1261.9 767.17L1265.65 773.66A64.3 64.3 0 0 1 1281.16 767.24L1279.22 760A71.8 71.8 0 0 1 1297.8 757.55L1297.8 829.35Z"/>
<path fill="#56B4E9" d="M1297.8 778.15A51.2 51.2 0 0 1 1311.05 779.89L1313.46 770.91A60.5 60.5 0 0 1 1328.05 776.96L1334.9 765.09A74.2 74.2 0 0 1 1350.27 776.88L1354.01 773.14A79.5 79.5 0 0 1 1366.65 789.6L1386.39 778.2A102.3 102.3 0 0 1 1396.61 802.87L1387.15 805.41A92.5 92.5 0 0 1 1390.3 829.35L1395.8 829.35A98 98 0 0 1 1392.46 854.71L1395.65 855.57A101.3 101.3 0 0 1 1385.53 880L1395.57 885.8A112.9 112.9 0 0 1 1377.63 909.18L1371.98 903.53A104.9 104.9 0 0 1 1350.25 920.2L1338.5 899.84A81.4 81.4 0 0 1 1318.87 907.98L1316.75 900.06A73.2 73.2 0 0 1 1297.8 902.55L1297.8 892.55A63.2 63.2 0 0 1 1281.44 890.4L1279.42 897.93A71 71 0 0 1 1262.3 890.84L1257.6 898.98A80.4 80.4 0 0 1 1240.95 886.2L1243.07 884.08A77.4 77.4 0 0 1 1230.77 868.05L1231.03 867.9A77.1 77.1 0 0 1 1223.33 849.3L1217.34 850.91A83.3 83.3 0 0 1 1214.5 829.35L1201.9 829.35A95.9 95.9 0 0 1 1205.17 804.53L1228.25 810.72A72 72 0 0 1 1235.45 793.35L1244.89 798.8A61.1 61.1 0 0 1 1254.6 786.15L1254.53 786.08A61.2 61.2 0 0 1 1267.2 776.35L1274.2 788.47A47.2 47.2 0 0 1 1285.58 783.76L1281.93 770.14A61.3 61.3 0 0 1 1297.8 768.05L1297.8 829.35Z"/>
<path fill="#009E73" d="M1297.8 804.25A25.1 25.1 0 0 1 1304.3 805.11L1306.78 795.83A34.7 34.7 0 0 1 1315.15 799.3L1324.7 782.76A53.8 53.8 0 0 1 1335.84 791.31L1347.72 779.43A70.6 70.6 0 0 1 1358.94 794.05L1367.77 788.95A80.8 80.8 0 0 1 1375.85 808.44L1371.4 809.63A76.2 76.2 0 0 1 1374 829.35L1369.5 829.35A71.7 71.7 0 0 1 1367.06 847.91L1366.48 847.75A71.1 71.1 0 0 1 1359.37 864.9L1362.41 866.65A74.6 74.6 0 0 1 1350.55 882.1L1346.45 878A68.8 68.8 0 0 1 1332.2 888.93L1325 876.46A54.4 54.4 0 0 1 1311.88 881.9L1310.74 877.65A50 50 0 0 1 1297.8 879.35L1297.8 874.05A44.7 44.7 0 0 1 1286.23 872.53L1285.04 876.97A49.3 49.3 0 0 1 1273.15 872.05L1269.5 878.37A56.6 56.6 0 0 1 1257.78 869.37L1256.58 870.57A58.3 58.3 0 0 1 1247.31 858.5L1246.62 858.9A59.1 59.1 0 0 1 1240.71 844.65L1236.75 845.71A63.2 63.2 0 0 1 1234.6 829.35L1223.3 829.35A74.5 74.5 0 0 1 1225.84 810.07L1246.51 815.61A53.1 53.1 0 0 1 1251.81 802.8L1261.86 808.6A41.5 41.5 0 0 1 1268.46 800.01L1272.91 804.46A35.2 35.2 0 0 1 1280.2 798.87L1285.65 808.31A24.3 24.3 0 0 1 1291.51 805.88L1288.74 795.54A35 35 0 0 1 1297.8 794.35L1297.8 829.35Z"/>
<text class="th" transform="translate(1297.8,642.62) scale(1,1.04)">0</text><text class="th" transform="translate(1348.74,649.33) scale(1,1.04)">1</text><text class="th" transform="translate(1396.21,668.99) scale(1,1.04)">2</text><text class="th" transform="translate(1436.98,700.27) scale(1,1.04)">3</text><text class="th" transform="translate(1468.26,741.03) scale(1,1.04)">4</text><text class="th" transform="translate(1487.92,788.51) scale(1,1.04)">5</text><text class="th" transform="translate(1494.63,839.45) scale(1,1.04)">6</text><text class="th" transform="translate(1487.92,890.39) scale(1,1.04)">7</text><text class="th" transform="translate(1468.26,937.86) scale(1,1.04)">8</text><text class="th" transform="translate(1436.98,978.63) scale(1,1.04)">9</text><text class="th" transform="translate(1396.21,1009.91) scale(1,1.04)">10</text><text class="th" transform="translate(1348.74,1029.57) scale(1,1.04)">11</text><text class="th" transform="translate(1297.8,1036.28) scale(1,1.04)">12</text><text class="th" transform="translate(1246.86,1029.57) scale(1,1.04)">13</text><text class="th" transform="translate(1199.38,1009.91) scale(1,1.04)">14</text><text class="th" transform="translate(1158.62,978.63) scale(1,1.04)">15</text><text class="th" transform="translate(1127.34,937.87) scale(1,1.04)">16</text><text class="th" transform="translate(1107.68,890.39) scale(1,1.04)">17</text><text class="th" transform="translate(1100.97,839.45) scale(1,1.04)">18</text><text class="th" transform="translate(1107.68,788.51) scale(1,1.04)">19</text><text class="th" transform="translate(1127.34,741.03) scale(1,1.04)">20</text><text class="th" transform="translate(1158.62,700.27) scale(1,1.04)">21</text><text class="th" transform="translate(1199.38,668.99) scale(1,1.04)">22</text><text class="th" transform="translate(1246.86,649.33) scale(1,1.04)">23</text>
<rect class="bd" x="1079.1" y="610.65" width="437.4" height="437.4"/>
<text class="st" transform="translate(1296.6,594.05) scale(1,1.06)">GS06</text>
</g>
<g id="GS07">
<g class="gM"><circle cx="388.2" cy="1397.6" r="32.48"/><circle cx="388.2" cy="1397.6" r="64.96"/><circle cx="388.2" cy="1397.6" r="97.44"/><circle cx="388.2" cy="1397.6" r="129.92"/><circle cx="388.2" cy="1397.6" r="162.4"/><circle cx="388.2" cy="1397.6" r="196.83"/><path d="M388.2 1397.6L388.2 1200.77M388.2 1397.6L439.14 1207.48M388.2 1397.6L486.61 1227.14M388.2 1397.6L527.38 1258.42M388.2 1397.6L558.66 1299.19M388.2 1397.6L578.32 1346.66M388.2 1397.6L585.03 1397.6M388.2 1397.6L578.32 1448.54M388.2 1397.6L558.66 1496.02M388.2 1397.6L527.38 1536.78M388.2 1397.6L486.61 1568.06M388.2 1397.6L439.14 1587.72M388.2 1397.6L388.2 1594.43M388.2 1397.6L337.26 1587.72M388.2 1397.6L289.78 1568.06M388.2 1397.6L249.02 1536.78M388.2 1397.6L217.74 1496.02M388.2 1397.6L198.08 1448.54M388.2 1397.6L191.37 1397.6M388.2 1397.6L198.08 1346.66M388.2 1397.6L217.74 1299.19M388.2 1397.6L249.02 1258.42M388.2 1397.6L289.78 1227.14M388.2 1397.6L337.26 1207.48"/></g>
<path class="gm" d="M388.2 1397.6L413.89 1202.45M388.2 1397.6L463.52 1215.75M388.2 1397.6L508.02 1241.44M388.2 1397.6L544.36 1277.78M388.2 1397.6L570.05 1322.28M388.2 1397.6L583.35 1371.91M388.2 1397.6L583.35 1423.29M388.2 1397.6L570.05 1472.92M388.2 1397.6L544.36 1517.42M388.2 1397.6L508.02 1553.76M388.2 1397.6L463.52 1579.45M388.2 1397.6L413.89 1592.75M388.2 1397.6L362.51 1592.75M388.2 1397.6L312.88 1579.45M388.2 1397.6L268.38 1553.76M388.2 1397.6L232.04 1517.42M388.2 1397.6L206.35 1472.92M388.2 1397.6L193.05 1423.29M388.2 1397.6L193.05 1371.91M388.2 1397.6L206.35 1322.28M388.2 1397.6L232.04 1277.78M388.2 1397.6L268.38 1241.44M388.2 1397.6L312.88 1215.75M388.2 1397.6L362.51 1202.45"/>
<path fill="#E69F00" d="M388.2 1340A57.6 57.6 0 0 1 403.11 1341.96L405.2 1334.14A65.7 65.7 0 0 1 421.05 1340.7L416.65 1348.32A56.9 56.9 0 0 1 428.43 1357.37L426.6 1359.2A54.3 54.3 0 0 1 435.23 1370.45L445.7 1364.4A66.4 66.4 0 0 1 452.34 1380.41L441.13 1383.42A54.8 54.8 0 0 1 443 1397.6L443 1397.6A54.8 54.8 0 0 1 441.13 1411.78L439.68 1411.4A53.3 53.3 0 0 1 434.36 1424.25L428.3 1420.75A46.3 46.3 0 0 1 420.94 1430.34L422.64 1432.04A48.7 48.7 0 0 1 412.55 1439.78L409.1 1433.8A41.8 41.8 0 0 1 399.02 1437.98L399.67 1440.39A44.3 44.3 0 0 1 388.2 1441.9L388.2 1434A36.4 36.4 0 0 1 378.78 1432.76L376.24 1442.23A46.2 46.2 0 0 1 365.1 1437.61L355.45 1454.32A65.5 65.5 0 0 1 341.88 1443.92L347.82 1437.98A57.1 57.1 0 0 1 338.75 1426.15L331.56 1430.3A65.4 65.4 0 0 1 325.03 1414.53L323.39 1414.97A67.1 67.1 0 0 1 321.1 1397.6L324.8 1397.6A63.4 63.4 0 0 1 326.96 1381.19L326.96 1381.19A63.4 63.4 0 0 1 333.29 1365.9L332.69 1365.55A64.1 64.1 0 0 1 342.87 1352.27L346.98 1356.38A58.3 58.3 0 0 1 359.05 1347.11L359.3 1347.54A57.8 57.8 0 0 1 373.24 1341.77L373.19 1341.58A58 58 0 0 1 388.2 1339.6L388.2 1397.6Z"/>
<path fill="#56B4E9" d="M388.2 1344.4A53.2 53.2 0 0 1 401.97 1346.21L402.95 1342.54A57 57 0 0 1 416.7 1348.24L414.05 1352.83A51.7 51.7 0 0 1 424.76 1361.04L424.62 1361.18A51.5 51.5 0 0 1 432.8 1371.85L432.63 1371.95A51.3 51.3 0 0 1 437.75 1384.32L432.73 1385.67A46.1 46.1 0 0 1 434.3 1397.6L432.3 1397.6A44.1 44.1 0 0 1 430.8 1409.01L423.46 1407.05A36.5 36.5 0 0 1 419.81 1415.85L413.66 1412.3A29.4 29.4 0 0 1 408.99 1418.39L406.8 1416.2A26.3 26.3 0 0 1 401.35 1420.38L399.65 1417.43A22.9 22.9 0 0 1 394.13 1419.72L394.02 1419.33A22.5 22.5 0 0 1 388.2 1420.1L388.2 1414.1A16.5 16.5 0 0 1 383.93 1413.54L382.17 1420.11A23.3 23.3 0 0 1 376.55 1417.78L368.05 1432.5A40.3 40.3 0 0 1 359.7 1426.1L359.99 1425.81A39.9 39.9 0 0 1 353.65 1417.55L347.84 1420.9A46.6 46.6 0 0 1 343.19 1409.66L340.68 1410.33A49.2 49.2 0 0 1 339 1397.6L337.3 1397.6A50.9 50.9 0 0 1 339.03 1384.43L339.32 1384.5A50.6 50.6 0 0 1 344.38 1372.3L341.87 1370.85A53.5 53.5 0 0 1 350.37 1359.77L352.49 1361.89A50.5 50.5 0 0 1 362.95 1353.87L363 1353.95A50.4 50.4 0 0 1 375.16 1348.92L375.21 1349.11A50.2 50.2 0 0 1 388.2 1347.4L388.2 1397.6Z"/>
<path fill="#009E73" d="M388.2 1379.1A18.5 18.5 0 0 1 392.99 1379.73L392.11 1383.01A15.1 15.1 0 0 1 395.75 1384.52L397.85 1380.89A19.3 19.3 0 0 1 401.85 1383.95L401.99 1383.81A19.5 19.5 0 0 1 405.09 1387.85L407.6 1386.4A22.4 22.4 0 0 1 409.84 1391.8L410.51 1391.62A23.1 23.1 0 0 1 411.3 1397.6L413.9 1397.6A25.7 25.7 0 0 1 413.02 1404.25L407.81 1402.85A20.3 20.3 0 0 1 405.78 1407.75L405.17 1407.4A19.6 19.6 0 0 1 402.06 1411.46L399.23 1408.63A15.6 15.6 0 0 1 396 1411.11L395 1409.38A13.6 13.6 0 0 1 391.72 1410.74L391.38 1409.48A12.3 12.3 0 0 1 388.2 1409.9L388.2 1408.2A10.6 10.6 0 0 1 385.46 1407.84L384.52 1411.32A14.2 14.2 0 0 1 381.1 1409.9L376.45 1417.95A23.5 23.5 0 0 1 371.58 1414.22L373.49 1412.31A20.8 20.8 0 0 1 370.19 1408L370.45 1407.85A20.5 20.5 0 0 1 368.4 1402.91L366.95 1403.29A22 22 0 0 1 366.2 1397.6L370.2 1397.6A18 18 0 0 1 370.81 1392.94L370.81 1392.94A18 18 0 0 1 372.61 1388.6L369.15 1386.6A22 22 0 0 1 372.64 1382.04L376.46 1385.86A16.6 16.6 0 0 1 379.9 1383.22L379.35 1382.27A17.7 17.7 0 0 1 383.62 1380.5L384.03 1382.05A16.1 16.1 0 0 1 388.2 1381.5L388.2 1397.6Z"/>
<text class="th" transform="translate(388.2,1210.87) scale(1,1.04)">0</text><text class="th" transform="translate(439.14,1217.58) scale(1,1.04)">1</text><text class="th" transform="translate(486.61,1237.24) scale(1,1.04)">2</text><text class="th" transform="translate(527.38,1268.52) scale(1,1.04)">3</text><text class="th" transform="translate(558.66,1309.29) scale(1,1.04)">4</text><text class="th" transform="translate(578.32,1356.76) scale(1,1.04)">5</text><text class="th" transform="translate(585.03,1407.7) scale(1,1.04)">6</text><text class="th" transform="translate(578.32,1458.64) scale(1,1.04)">7</text><text class="th" transform="translate(558.66,1506.12) scale(1,1.04)">8</text><text class="th" transform="translate(527.38,1546.88) scale(1,1.04)">9</text><text class="th" transform="translate(486.61,1578.16) scale(1,1.04)">10</text><text class="th" transform="translate(439.14,1597.82) scale(1,1.04)">11</text><text class="th" transform="translate(388.2,1604.53) scale(1,1.04)">12</text><text class="th" transform="translate(337.26,1597.82) scale(1,1.04)">13</text><text class="th" transform="translate(289.78,1578.16) scale(1,1.04)">14</text><text class="th" transform="translate(249.02,1546.88) scale(1,1.04)">15</text><text class="th" transform="translate(217.74,1506.12) scale(1,1.04)">16</text><text class="th" transform="translate(198.08,1458.64) scale(1,1.04)">17</text><text class="th" transform="translate(191.37,1407.7) scale(1,1.04)">18</text><text class="th" transform="translate(198.08,1356.76) scale(1,1.04)">19</text><text class="th" transform="translate(217.74,1309.29) scale(1,1.04)">20</text><text class="th" transform="translate(249.02,1268.52) scale(1,1.04)">21</text><text class="th" transform="translate(289.78,1237.24) scale(1,1.04)">22</text><text class="th" transform="translate(337.26,1217.58) scale(1,1.04)">23</text>
<rect class="bd" x="169.5" y="1178.9" width="437.4" height="437.4"/>
<text class="st" transform="translate(387,1162.3) scale(1,1.06)">GS07</text>
<line class="tk" x1="152.9" y1="1397.6" x2="169" y2="1397.6"/><text class="ay" transform="translate(146.3,1410.3) scale(1,1.08)">0</text><line class="tk" x1="152.9" y1="1365.12" x2="169" y2="1365.12"/><text class="ay" transform="translate(146.3,1377.82) scale(1,1.08)">50</text><line class="tk" x1="152.9" y1="1332.64" x2="169" y2="1332.64"/><text class="ay" transform="translate(146.3,1345.34) scale(1,1.08)">100</text><line class="tk" x1="152.9" y1="1300.16" x2="169" y2="1300.16"/><text class="ay" transform="translate(146.3,1312.86) scale(1,1.08)">150</text><line class="tk" x1="152.9" y1="1267.68" x2="169" y2="1267.68"/><text class="ay" transform="translate(146.3,1280.38) scale(1,1.08)">200</text><line class="tk" x1="152.9" y1="1235.2" x2="169" y2="1235.2"/><text class="ay" transform="translate(146.3,1247.9) scale(1,1.08)">250</text>
</g>
<g id="GS08">
<g class="gM"><circle cx="843" cy="1397.6" r="32.48"/><circle cx="843" cy="1397.6" r="64.96"/><circle cx="843" cy="1397.6" r="97.44"/><circle cx="843" cy="1397.6" r="129.92"/><circle cx="843" cy="1397.6" r="162.4"/><circle cx="843" cy="1397.6" r="196.83"/><path d="M843 1397.6L843 1200.77M843 1397.6L893.94 1207.48M843 1397.6L941.41 1227.14M843 1397.6L982.18 1258.42M843 1397.6L1013.46 1299.19M843 1397.6L1033.12 1346.66M843 1397.6L1039.83 1397.6M843 1397.6L1033.12 1448.54M843 1397.6L1013.46 1496.02M843 1397.6L982.18 1536.78M843 1397.6L941.41 1568.06M843 1397.6L893.94 1587.72M843 1397.6L843 1594.43M843 1397.6L792.06 1587.72M843 1397.6L744.59 1568.06M843 1397.6L703.82 1536.78M843 1397.6L672.54 1496.02M843 1397.6L652.88 1448.54M843 1397.6L646.17 1397.6M843 1397.6L652.88 1346.66M843 1397.6L672.54 1299.19M843 1397.6L703.82 1258.42M843 1397.6L744.58 1227.14M843 1397.6L792.06 1207.48"/></g>
<path class="gm" d="M843 1397.6L868.69 1202.45M843 1397.6L918.32 1215.75M843 1397.6L962.82 1241.44M843 1397.6L999.16 1277.78M843 1397.6L1024.85 1322.28M843 1397.6L1038.15 1371.91M843 1397.6L1038.15 1423.29M843 1397.6L1024.85 1472.92M843 1397.6L999.16 1517.42M843 1397.6L962.82 1553.76M843 1397.6L918.32 1579.45M843 1397.6L868.69 1592.75M843 1397.6L817.31 1592.75M843 1397.6L767.68 1579.45M843 1397.6L723.18 1553.76M843 1397.6L686.84 1517.42M843 1397.6L661.15 1472.92M843 1397.6L647.85 1423.29M843 1397.6L647.85 1371.91M843 1397.6L661.15 1322.28M843 1397.6L686.84 1277.78M843 1397.6L723.18 1241.44M843 1397.6L767.68 1215.75M843 1397.6L817.31 1202.45"/>
<path fill="#E69F00" d="M843 1312.1A85.5 85.5 0 0 1 865.13 1315.01L864.17 1318.59A81.8 81.8 0 0 1 883.9 1326.76L882.1 1329.88A78.2 78.2 0 0 1 898.3 1342.3L899.43 1341.17A79.8 79.8 0 0 1 912.11 1357.7L902.5 1363.25A68.7 68.7 0 0 1 909.36 1379.82L909.36 1379.82A68.7 68.7 0 0 1 911.7 1397.6L904.6 1397.6A61.6 61.6 0 0 1 902.5 1413.54L907.91 1414.99A67.2 67.2 0 0 1 901.2 1431.2L904.75 1433.25A71.3 71.3 0 0 1 893.42 1448.02L895.33 1449.93A74 74 0 0 1 880 1461.69L878.25 1458.65A70.5 70.5 0 0 1 861.25 1465.7L862.13 1468.98A73.9 73.9 0 0 1 843 1471.5L843 1473.8A76.2 76.2 0 0 1 823.28 1471.2L823.93 1468.79A73.7 73.7 0 0 1 806.15 1461.43L804.65 1464.02A76.7 76.7 0 0 1 788.76 1451.84L788.41 1452.19A77.2 77.2 0 0 1 776.14 1436.2L782.29 1432.65A70.1 70.1 0 0 1 775.29 1415.74L775.29 1415.74A70.1 70.1 0 0 1 772.9 1397.6L770 1397.6A73 73 0 0 1 772.49 1378.71L772.1 1378.6A73.4 73.4 0 0 1 779.43 1360.9L781.69 1362.2A70.8 70.8 0 0 1 792.94 1347.54L793.57 1348.17A69.9 69.9 0 0 1 808.05 1337.06L804.85 1331.52A76.3 76.3 0 0 1 823.25 1323.9L825.25 1331.34A68.6 68.6 0 0 1 843 1329L843 1397.6Z"/>
<path fill="#56B4E9" d="M843 1318.2A79.4 79.4 0 0 1 863.55 1320.91L862.8 1323.71A76.5 76.5 0 0 1 881.25 1331.35L878.95 1335.33A71.9 71.9 0 0 1 893.84 1346.76L894.41 1346.19A72.7 72.7 0 0 1 905.96 1361.25L897.47 1366.15A62.9 62.9 0 0 1 903.76 1381.32L903.37 1381.42A62.5 62.5 0 0 1 905.5 1397.6L900 1397.6A57 57 0 0 1 898.06 1412.35L902.79 1413.62A61.9 61.9 0 0 1 896.61 1428.55L899.81 1430.4A65.6 65.6 0 0 1 889.39 1443.99L890.94 1445.54A67.8 67.8 0 0 1 876.9 1456.32L874.05 1451.38A62.1 62.1 0 0 1 859.07 1457.58L860.26 1462.03A66.7 66.7 0 0 1 843 1464.3L843 1469.7A72.1 72.1 0 0 1 824.34 1467.24L826.07 1460.77A65.4 65.4 0 0 1 810.3 1454.24L810.5 1453.89A65 65 0 0 1 797.04 1443.56L793.79 1446.81A69.6 69.6 0 0 1 782.72 1432.4L787.23 1429.8A64.4 64.4 0 0 1 780.79 1414.27L782.53 1413.8A62.6 62.6 0 0 1 780.4 1397.6L779.1 1397.6A63.9 63.9 0 0 1 781.28 1381.06L783.5 1381.66A61.6 61.6 0 0 1 789.65 1366.8L788.18 1365.95A63.3 63.3 0 0 1 798.24 1352.84L799.51 1354.11A61.5 61.5 0 0 1 812.25 1344.34L808.35 1337.58A69.3 69.3 0 0 1 825.06 1330.66L827.29 1338.97A60.7 60.7 0 0 1 843 1336.9L843 1397.6Z"/>
<path fill="#009E73" d="M843 1381.5A16.1 16.1 0 0 1 847.17 1382.05L847.09 1382.34A15.8 15.8 0 0 1 850.9 1383.92L848.8 1387.55A11.6 11.6 0 0 1 851.2 1389.4L851.63 1388.97A12.2 12.2 0 0 1 853.57 1391.5L856.16 1390A15.2 15.2 0 0 1 857.68 1393.67L861.64 1392.6A19.3 19.3 0 0 1 862.3 1397.6L861.7 1397.6A18.7 18.7 0 0 1 861.06 1402.44L855.85 1401.04A13.3 13.3 0 0 1 854.52 1404.25L854.17 1404.05A12.9 12.9 0 0 1 852.12 1406.72L850.99 1405.59A11.3 11.3 0 0 1 848.65 1407.39L848.85 1407.73A11.7 11.7 0 0 1 846.03 1408.9L846.42 1410.35A13.2 13.2 0 0 1 843 1410.8L843 1414.4A16.8 16.8 0 0 1 838.65 1413.83L839.38 1411.12A14 14 0 0 1 836 1409.72L834.65 1412.06A16.7 16.7 0 0 1 831.19 1409.41L828.58 1412.02A20.4 20.4 0 0 1 825.33 1407.8L825.16 1407.9A20.6 20.6 0 0 1 823.1 1402.93L825.9 1402.18A17.7 17.7 0 0 1 825.3 1397.6L825.3 1397.6A17.7 17.7 0 0 1 825.9 1393.02L828.41 1393.69A15.1 15.1 0 0 1 829.92 1390.05L823.95 1386.6A22 22 0 0 1 827.44 1382.04L830.63 1385.23A17.5 17.5 0 0 1 834.25 1382.44L836.6 1386.51A12.8 12.8 0 0 1 839.69 1385.24L838.47 1380.7A17.5 17.5 0 0 1 843 1380.1L843 1397.6Z"/>
<text class="th" transform="translate(843,1210.87) scale(1,1.04)">0</text><text class="th" transform="translate(893.94,1217.58) scale(1,1.04)">1</text><text class="th" transform="translate(941.41,1237.24) scale(1,1.04)">2</text><text class="th" transform="translate(982.18,1268.52) scale(1,1.04)">3</text><text class="th" transform="translate(1013.46,1309.29) scale(1,1.04)">4</text><text class="th" transform="translate(1033.12,1356.76) scale(1,1.04)">5</text><text class="th" transform="translate(1039.83,1407.7) scale(1,1.04)">6</text><text class="th" transform="translate(1033.12,1458.64) scale(1,1.04)">7</text><text class="th" transform="translate(1013.46,1506.12) scale(1,1.04)">8</text><text class="th" transform="translate(982.18,1546.88) scale(1,1.04)">9</text><text class="th" transform="translate(941.41,1578.16) scale(1,1.04)">10</text><text class="th" transform="translate(893.94,1597.82) scale(1,1.04)">11</text><text class="th" transform="translate(843,1604.53) scale(1,1.04)">12</text><text class="th" transform="translate(792.06,1597.82) scale(1,1.04)">13</text><text class="th" transform="translate(744.59,1578.16) scale(1,1.04)">14</text><text class="th" transform="translate(703.82,1546.88) scale(1,1.04)">15</text><text class="th" transform="translate(672.54,1506.12) scale(1,1.04)">16</text><text class="th" transform="translate(652.88,1458.64) scale(1,1.04)">17</text><text class="th" transform="translate(646.17,1407.7) scale(1,1.04)">18</text><text class="th" transform="translate(652.88,1356.76) scale(1,1.04)">19</text><text class="th" transform="translate(672.54,1309.29) scale(1,1.04)">20</text><text class="th" transform="translate(703.82,1268.52) scale(1,1.04)">21</text><text class="th" transform="translate(744.58,1237.24) scale(1,1.04)">22</text><text class="th" transform="translate(792.06,1217.58) scale(1,1.04)">23</text>
<rect class="bd" x="624.3" y="1178.9" width="437.4" height="437.4"/>
<text class="st" transform="translate(841.8,1162.3) scale(1,1.06)">GS08</text>
</g>
<g id="GS09">
<g class="gM"><circle cx="1297.8" cy="1397.6" r="32.48"/><circle cx="1297.8" cy="1397.6" r="64.96"/><circle cx="1297.8" cy="1397.6" r="97.44"/><circle cx="1297.8" cy="1397.6" r="129.92"/><circle cx="1297.8" cy="1397.6" r="162.4"/><circle cx="1297.8" cy="1397.6" r="196.83"/><path d="M1297.8 1397.6L1297.8 1200.77M1297.8 1397.6L1348.74 1207.48M1297.8 1397.6L1396.21 1227.14M1297.8 1397.6L1436.98 1258.42M1297.8 1397.6L1468.26 1299.19M1297.8 1397.6L1487.92 1346.66M1297.8 1397.6L1494.63 1397.6M1297.8 1397.6L1487.92 1448.54M1297.8 1397.6L1468.26 1496.02M1297.8 1397.6L1436.98 1536.78M1297.8 1397.6L1396.21 1568.06M1297.8 1397.6L1348.74 1587.72M1297.8 1397.6L1297.8 1594.43M1297.8 1397.6L1246.86 1587.72M1297.8 1397.6L1199.38 1568.06M1297.8 1397.6L1158.62 1536.78M1297.8 1397.6L1127.34 1496.02M1297.8 1397.6L1107.68 1448.54M1297.8 1397.6L1100.97 1397.6M1297.8 1397.6L1107.68 1346.66M1297.8 1397.6L1127.34 1299.19M1297.8 1397.6L1158.62 1258.42M1297.8 1397.6L1199.38 1227.14M1297.8 1397.6L1246.86 1207.48"/></g>
<path class="gm" d="M1297.8 1397.6L1323.49 1202.45M1297.8 1397.6L1373.12 1215.75M1297.8 1397.6L1417.62 1241.44M1297.8 1397.6L1453.96 1277.78M1297.8 1397.6L1479.65 1322.28M1297.8 1397.6L1492.95 1371.91M1297.8 1397.6L1492.95 1423.29M1297.8 1397.6L1479.65 1472.92M1297.8 1397.6L1453.96 1517.42M1297.8 1397.6L1417.62 1553.76M1297.8 1397.6L1373.12 1579.45M1297.8 1397.6L1323.49 1592.75M1297.8 1397.6L1272.11 1592.75M1297.8 1397.6L1222.48 1579.45M1297.8 1397.6L1177.98 1553.76M1297.8 1397.6L1141.64 1517.42M1297.8 1397.6L1115.95 1472.92M1297.8 1397.6L1102.65 1423.29M1297.8 1397.6L1102.65 1371.91M1297.8 1397.6L1115.95 1322.28M1297.8 1397.6L1141.64 1277.78M1297.8 1397.6L1177.98 1241.44M1297.8 1397.6L1222.48 1215.75M1297.8 1397.6L1272.11 1202.45"/>
<path fill="#E69F00" d="M1297.8 1345.5A52.1 52.1 0 0 1 1311.28 1347.28L1310.64 1349.69A49.6 49.6 0 0 1 1322.6 1354.65L1323.2 1353.61A50.8 50.8 0 0 1 1333.72 1361.68L1334.92 1360.48A52.5 52.5 0 0 1 1343.27 1371.35L1348.55 1368.3A58.6 58.6 0 0 1 1354.4 1382.43L1364.45 1379.74A69 69 0 0 1 1366.8 1397.6L1368.1 1397.6A70.3 70.3 0 0 1 1365.7 1415.79L1373.63 1417.92A78.5 78.5 0 0 1 1365.78 1436.85L1367.34 1437.75A80.3 80.3 0 0 1 1354.58 1454.38L1352.88 1452.68A77.9 77.9 0 0 1 1336.75 1465.06L1338.1 1467.4A80.6 80.6 0 0 1 1318.66 1475.45L1318.25 1473.91A79 79 0 0 1 1297.8 1476.6L1297.8 1481.5A83.9 83.9 0 0 1 1276.09 1478.64L1278.49 1469.66A74.6 74.6 0 0 1 1260.5 1462.21L1259.1 1464.63A77.4 77.4 0 0 1 1243.07 1452.33L1249.86 1445.54A67.8 67.8 0 0 1 1239.08 1431.5L1241.68 1430A64.8 64.8 0 0 1 1235.21 1414.37L1241.2 1412.77A58.6 58.6 0 0 1 1239.2 1397.6L1237 1397.6A60.8 60.8 0 0 1 1239.07 1381.86L1244.96 1383.44A54.7 54.7 0 0 1 1250.43 1370.25L1250.08 1370.05A55.1 55.1 0 0 1 1258.84 1358.64L1257.57 1357.37A56.9 56.9 0 0 1 1269.35 1348.32L1269.7 1348.93A56.2 56.2 0 0 1 1283.25 1343.31L1283.12 1342.83A56.7 56.7 0 0 1 1297.8 1340.9L1297.8 1397.6Z"/>
<path fill="#56B4E9" d="M1297.8 1355A42.6 42.6 0 0 1 1308.83 1356.45L1308.36 1358.19A40.8 40.8 0 0 1 1318.2 1362.27L1319 1360.88A42.4 42.4 0 0 1 1327.78 1367.62L1328.06 1367.34A42.8 42.8 0 0 1 1334.87 1376.2L1341.71 1372.25A50.7 50.7 0 0 1 1346.77 1384.48L1348.32 1384.06A52.3 52.3 0 0 1 1350.1 1397.6L1348 1397.6A50.2 50.2 0 0 1 1346.29 1410.59L1345.61 1410.41A49.5 49.5 0 0 1 1340.67 1422.35L1336.42 1419.9A44.6 44.6 0 0 1 1329.34 1429.14L1330.11 1429.91A45.7 45.7 0 0 1 1320.65 1437.18L1322.2 1439.86A48.8 48.8 0 0 1 1310.43 1444.74L1311.44 1448.5A52.7 52.7 0 0 1 1297.8 1450.3L1297.8 1452A54.4 54.4 0 0 1 1283.72 1450.15L1285.12 1444.93A49 49 0 0 1 1273.3 1440.04L1272.05 1442.2A51.5 51.5 0 0 1 1261.38 1434.02L1261.67 1433.73A51.1 51.1 0 0 1 1253.55 1423.15L1252.85 1423.55A51.9 51.9 0 0 1 1247.67 1411.03L1253.08 1409.58A46.3 46.3 0 0 1 1251.5 1397.6L1251.5 1397.6A46.3 46.3 0 0 1 1253.08 1385.62L1255.4 1386.24A43.9 43.9 0 0 1 1259.78 1375.65L1258.74 1375.05A45.1 45.1 0 0 1 1265.91 1365.71L1265.91 1365.71A45.1 45.1 0 0 1 1275.25 1358.54L1276.45 1360.62A42.7 42.7 0 0 1 1286.75 1356.35L1286.08 1353.84A45.3 45.3 0 0 1 1297.8 1352.3L1297.8 1397.6Z"/>
<path fill="#009E73" d="M1297.8 1384.9A12.7 12.7 0 0 1 1301.09 1385.33L1301.73 1382.92A15.2 15.2 0 0 1 1305.4 1384.44L1305.35 1384.52A15.1 15.1 0 0 1 1308.48 1386.92L1308.41 1386.99A15 15 0 0 1 1310.79 1390.1L1313.73 1388.4A18.4 18.4 0 0 1 1315.57 1392.84L1322.62 1390.95A25.7 25.7 0 0 1 1323.5 1397.6L1324.7 1397.6A26.9 26.9 0 0 1 1323.78 1404.56L1326.1 1405.18A29.3 29.3 0 0 1 1323.17 1412.25L1322.65 1411.95A28.7 28.7 0 0 1 1318.09 1417.89L1318.52 1418.32A29.3 29.3 0 0 1 1312.45 1422.97L1312.45 1422.97A29.3 29.3 0 0 1 1305.38 1425.9L1307.45 1433.63A37.3 37.3 0 0 1 1297.8 1434.9L1297.8 1435.1A37.5 37.5 0 0 1 1288.09 1433.82L1288.66 1431.7A35.3 35.3 0 0 1 1280.15 1428.17L1281.1 1426.53A33.4 33.4 0 0 1 1274.18 1421.22L1279.42 1415.98A26 26 0 0 1 1275.28 1410.6L1275.98 1410.2A25.2 25.2 0 0 1 1273.46 1404.12L1279.25 1402.57A19.2 19.2 0 0 1 1278.6 1397.6L1281.2 1397.6A16.6 16.6 0 0 1 1281.77 1393.3L1282.06 1393.38A16.3 16.3 0 0 1 1283.68 1389.45L1278.75 1386.6A22 22 0 0 1 1282.24 1382.04L1282.6 1382.4A21.5 21.5 0 0 1 1287.05 1378.98L1289.7 1383.57A16.2 16.2 0 0 1 1293.61 1381.95L1292.21 1376.74A21.6 21.6 0 0 1 1297.8 1376L1297.8 1397.6Z"/>
<text class="th" transform="translate(1297.8,1210.87) scale(1,1.04)">0</text><text class="th" transform="translate(1348.74,1217.58) scale(1,1.04)">1</text><text class="th" transform="translate(1396.21,1237.24) scale(1,1.04)">2</text><text class="th" transform="translate(1436.98,1268.52) scale(1,1.04)">3</text><text class="th" transform="translate(1468.26,1309.29) scale(1,1.04)">4</text><text class="th" transform="translate(1487.92,1356.76) scale(1,1.04)">5</text><text class="th" transform="translate(1494.63,1407.7) scale(1,1.04)">6</text><text class="th" transform="translate(1487.92,1458.64) scale(1,1.04)">7</text><text class="th" transform="translate(1468.26,1506.12) scale(1,1.04)">8</text><text class="th" transform="translate(1436.98,1546.88) scale(1,1.04)">9</text><text class="th" transform="translate(1396.21,1578.16) scale(1,1.04)">10</text><text class="th" transform="translate(1348.74,1597.82) scale(1,1.04)">11</text><text class="th" transform="translate(1297.8,1604.53) scale(1,1.04)">12</text><text class="th" transform="translate(1246.86,1597.82) scale(1,1.04)">13</text><text class="th" transform="translate(1199.38,1578.16) scale(1,1.04)">14</text><text class="th" transform="translate(1158.62,1546.88) scale(1,1.04)">15</text><text class="th" transform="translate(1127.34,1506.12) scale(1,1.04)">16</text><text class="th" transform="translate(1107.68,1458.64) scale(1,1.04)">17</text><text class="th" transform="translate(1100.97,1407.7) scale(1,1.04)">18</text><text class="th" transform="translate(1107.68,1356.76) scale(1,1.04)">19</text><text class="th" transform="translate(1127.34,1309.29) scale(1,1.04)">20</text><text class="th" transform="translate(1158.62,1268.52) scale(1,1.04)">21</text><text class="th" transform="translate(1199.38,1237.24) scale(1,1.04)">22</text><text class="th" transform="translate(1246.86,1217.58) scale(1,1.04)">23</text>
<rect class="bd" x="1079.1" y="1178.9" width="437.4" height="437.4"/>
<text class="st" transform="translate(1296.6,1162.3) scale(1,1.06)">GS09</text>
</g>
<g id="GS10">
<g class="gM"><circle cx="388.2" cy="1965.7" r="32.48"/><circle cx="388.2" cy="1965.7" r="64.96"/><circle cx="388.2" cy="1965.7" r="97.44"/><circle cx="388.2" cy="1965.7" r="129.92"/><circle cx="388.2" cy="1965.7" r="162.4"/><circle cx="388.2" cy="1965.7" r="196.83"/><path d="M388.2 1965.7L388.2 1768.87M388.2 1965.7L439.14 1775.58M388.2 1965.7L486.61 1795.24M388.2 1965.7L527.38 1826.52M388.2 1965.7L558.66 1867.29M388.2 1965.7L578.32 1914.76M388.2 1965.7L585.03 1965.7M388.2 1965.7L578.32 2016.64M388.2 1965.7L558.66 2064.11M388.2 1965.7L527.38 2104.88M388.2 1965.7L486.61 2136.16M388.2 1965.7L439.14 2155.82M388.2 1965.7L388.2 2162.53M388.2 1965.7L337.26 2155.82M388.2 1965.7L289.78 2136.16M388.2 1965.7L249.02 2104.88M388.2 1965.7L217.74 2064.12M388.2 1965.7L198.08 2016.64M388.2 1965.7L191.37 1965.7M388.2 1965.7L198.08 1914.76M388.2 1965.7L217.74 1867.29M388.2 1965.7L249.02 1826.52M388.2 1965.7L289.78 1795.24M388.2 1965.7L337.26 1775.58"/></g>
<path class="gm" d="M388.2 1965.7L413.89 1770.55M388.2 1965.7L463.52 1783.85M388.2 1965.7L508.02 1809.54M388.2 1965.7L544.36 1845.88M388.2 1965.7L570.05 1890.38M388.2 1965.7L583.35 1940.01M388.2 1965.7L583.35 1991.39M388.2 1965.7L570.05 2041.02M388.2 1965.7L544.36 2085.52M388.2 1965.7L508.02 2121.86M388.2 1965.7L463.52 2147.55M388.2 1965.7L413.89 2160.85M388.2 1965.7L362.51 2160.85M388.2 1965.7L312.88 2147.55M388.2 1965.7L268.38 2121.86M388.2 1965.7L232.04 2085.52M388.2 1965.7L206.35 2041.02M388.2 1965.7L193.05 1991.39M388.2 1965.7L193.05 1940.01M388.2 1965.7L206.35 1890.38M388.2 1965.7L232.04 1845.88M388.2 1965.7L268.38 1809.54M388.2 1965.7L312.88 1783.85M388.2 1965.7L362.51 1770.55"/>
<path fill="#E69F00" d="M388.2 1884.6A81.1 81.1 0 0 1 409.19 1887.36L408.65 1889.39A79 79 0 0 1 427.7 1897.28L426.8 1898.84A77.2 77.2 0 0 1 442.79 1911.11L442.65 1911.25A77 77 0 0 1 454.88 1927.2L455.32 1926.95A77.5 77.5 0 0 1 463.06 1945.64L471.85 1943.29A86.6 86.6 0 0 1 474.8 1965.7L479.4 1965.7A91.2 91.2 0 0 1 476.29 1989.3L479.09 1990.05A94.1 94.1 0 0 1 469.69 2012.75L476.97 2016.95A102.5 102.5 0 0 1 460.68 2038.18L461.88 2039.38A104.2 104.2 0 0 1 440.3 2055.94L439.3 2054.21A102.2 102.2 0 0 1 414.65 2064.42L415.43 2067.32A105.2 105.2 0 0 1 388.2 2070.9L388.2 2069.4A103.7 103.7 0 0 1 361.36 2065.87L363.28 2058.72A96.3 96.3 0 0 1 340.05 2049.1L337.4 2053.69A101.6 101.6 0 0 1 316.36 2037.54L325.06 2028.84A89.3 89.3 0 0 1 310.86 2010.35L309.48 2011.15A90.9 90.9 0 0 1 300.4 1989.23L298.27 1989.8A93.1 93.1 0 0 1 295.1 1965.7L298.1 1965.7A90.1 90.1 0 0 1 301.17 1942.38L308.03 1944.22A83 83 0 0 1 316.32 1924.2L316.15 1924.1A83.2 83.2 0 0 1 329.37 1906.87L329.51 1907.01A83 83 0 0 1 346.7 1893.82L347.3 1894.86A81.8 81.8 0 0 1 367.03 1886.69L366.51 1884.76A83.8 83.8 0 0 1 388.2 1881.9L388.2 1965.7Z"/>
<path fill="#56B4E9" d="M388.2 1914A51.7 51.7 0 0 1 401.58 1915.76L400.36 1920.3A47 47 0 0 1 411.7 1925L409.45 1928.89A42.5 42.5 0 0 1 418.25 1935.65L418.89 1935.01A43.4 43.4 0 0 1 425.79 1944L431.33 1940.8A49.8 49.8 0 0 1 436.3 1952.81L441.42 1951.44A55.1 55.1 0 0 1 443.3 1965.7L449 1965.7A60.8 60.8 0 0 1 446.93 1981.44L452.43 1982.91A66.5 66.5 0 0 1 445.79 1998.95L455.58 2004.6A77.8 77.8 0 0 1 443.21 2020.71L443.21 2020.71A77.8 77.8 0 0 1 427.1 2033.08L427.1 2033.08A77.8 77.8 0 0 1 408.34 2040.85L407.77 2038.72A75.6 75.6 0 0 1 388.2 2041.3L388.2 2040A74.3 74.3 0 0 1 368.97 2037.47L370.21 2032.83A69.5 69.5 0 0 1 353.45 2025.89L351.9 2028.57A72.6 72.6 0 0 1 336.86 2017.04L346.48 2007.42A59 59 0 0 1 337.1 1995.2L327.84 2000.55A69.7 69.7 0 0 1 320.87 1983.74L320.59 1983.82A70 70 0 0 1 318.2 1965.7L325.8 1965.7A62.4 62.4 0 0 1 327.93 1949.55L332.85 1950.87A57.3 57.3 0 0 1 338.58 1937.05L346.8 1941.8A47.8 47.8 0 0 1 354.4 1931.9L350.51 1928.01A53.3 53.3 0 0 1 361.55 1919.54L361.75 1919.89A52.9 52.9 0 0 1 374.51 1914.6L374.43 1914.31A53.2 53.2 0 0 1 388.2 1912.5L388.2 1965.7Z"/>
<path fill="#009E73" d="M388.2 1938.4A27.3 27.3 0 0 1 395.27 1939.33L394.28 1943A23.5 23.5 0 0 1 399.95 1945.35L401.3 1943.01A26.2 26.2 0 0 1 406.73 1947.17L406.73 1947.17A26.2 26.2 0 0 1 410.89 1952.6L413.92 1950.85A29.7 29.7 0 0 1 416.89 1958.01L421.62 1956.74A34.6 34.6 0 0 1 422.8 1965.7L424.9 1965.7A36.7 36.7 0 0 1 423.65 1975.2L429.06 1976.65A42.3 42.3 0 0 1 424.83 1986.85L427.26 1988.25A45.1 45.1 0 0 1 420.09 1997.59L421.93 1999.43A47.7 47.7 0 0 1 412.05 2007.01L407.45 1999.04A38.5 38.5 0 0 1 398.16 2002.89L399.56 2008.1A43.9 43.9 0 0 1 388.2 2009.6L388.2 2004.8A39.1 39.1 0 0 1 378.08 2003.47L378.7 2001.15A36.7 36.7 0 0 1 369.85 1997.48L367.95 2000.77A40.5 40.5 0 0 1 359.56 1994.34L364.51 1989.39A33.5 33.5 0 0 1 359.19 1982.45L351.31 1987A42.6 42.6 0 0 1 347.05 1976.73L346.76 1976.8A42.9 42.9 0 0 1 345.3 1965.7L347.3 1965.7A40.9 40.9 0 0 1 348.69 1955.11L351.01 1955.74A38.5 38.5 0 0 1 354.86 1946.45L360.66 1949.8A31.8 31.8 0 0 1 365.71 1943.21L366.14 1943.64A31.2 31.2 0 0 1 372.6 1938.68L375.15 1943.1A26.1 26.1 0 0 1 381.44 1940.49L380.18 1935.76A31 31 0 0 1 388.2 1934.7L388.2 1965.7Z"/>
<text class="th" transform="translate(388.2,1778.97) scale(1,1.04)">0</text><text class="th" transform="translate(439.14,1785.68) scale(1,1.04)">1</text><text class="th" transform="translate(486.61,1805.34) scale(1,1.04)">2</text><text class="th" transform="translate(527.38,1836.62) scale(1,1.04)">3</text><text class="th" transform="translate(558.66,1877.38) scale(1,1.04)">4</text><text class="th" transform="translate(578.32,1924.86) scale(1,1.04)">5</text><text class="th" transform="translate(585.03,1975.8) scale(1,1.04)">6</text><text class="th" transform="translate(578.32,2026.74) scale(1,1.04)">7</text><text class="th" transform="translate(558.66,2074.21) scale(1,1.04)">8</text><text class="th" transform="translate(527.38,2114.98) scale(1,1.04)">9</text><text class="th" transform="translate(486.61,2146.26) scale(1,1.04)">10</text><text class="th" transform="translate(439.14,2165.92) scale(1,1.04)">11</text><text class="th" transform="translate(388.2,2172.63) scale(1,1.04)">12</text><text class="th" transform="translate(337.26,2165.92) scale(1,1.04)">13</text><text class="th" transform="translate(289.78,2146.26) scale(1,1.04)">14</text><text class="th" transform="translate(249.02,2114.98) scale(1,1.04)">15</text><text class="th" transform="translate(217.74,2074.22) scale(1,1.04)">16</text><text class="th" transform="translate(198.08,2026.74) scale(1,1.04)">17</text><text class="th" transform="translate(191.37,1975.8) scale(1,1.04)">18</text><text class="th" transform="translate(198.08,1924.86) scale(1,1.04)">19</text><text class="th" transform="translate(217.74,1877.38) scale(1,1.04)">20</text><text class="th" transform="translate(249.02,1836.62) scale(1,1.04)">21</text><text class="th" transform="translate(289.78,1805.34) scale(1,1.04)">22</text><text class="th" transform="translate(337.26,1785.68) scale(1,1.04)">23</text>
<rect class="bd" x="169.5" y="1747" width="437.4" height="437.4"/>
<text class="st" transform="translate(387,1730.4) scale(1,1.06)">GS10</text>
<line class="tk" x1="152.9" y1="1965.7" x2="169" y2="1965.7"/><text class="ay" transform="translate(146.3,1978.4) scale(1,1.08)">0</text><line class="tk" x1="152.9" y1="1933.22" x2="169" y2="1933.22"/><text class="ay" transform="translate(146.3,1945.92) scale(1,1.08)">50</text><line class="tk" x1="152.9" y1="1900.74" x2="169" y2="1900.74"/><text class="ay" transform="translate(146.3,1913.44) scale(1,1.08)">100</text><line class="tk" x1="152.9" y1="1868.26" x2="169" y2="1868.26"/><text class="ay" transform="translate(146.3,1880.96) scale(1,1.08)">150</text><line class="tk" x1="152.9" y1="1835.78" x2="169" y2="1835.78"/><text class="ay" transform="translate(146.3,1848.48) scale(1,1.08)">200</text><line class="tk" x1="152.9" y1="1803.3" x2="169" y2="1803.3"/><text class="ay" transform="translate(146.3,1816) scale(1,1.08)">250</text>
</g>
<g id="GS11">
<g class="gM"><circle cx="843" cy="1965.7" r="32.48"/><circle cx="843" cy="1965.7" r="64.96"/><circle cx="843" cy="1965.7" r="97.44"/><circle cx="843" cy="1965.7" r="129.92"/><circle cx="843" cy="1965.7" r="162.4"/><circle cx="843" cy="1965.7" r="196.83"/><path d="M843 1965.7L843 1768.87M843 1965.7L893.94 1775.58M843 1965.7L941.41 1795.24M843 1965.7L982.18 1826.52M843 1965.7L1013.46 1867.29M843 1965.7L1033.12 1914.76M843 1965.7L1039.83 1965.7M843 1965.7L1033.12 2016.64M843 1965.7L1013.46 2064.11M843 1965.7L982.18 2104.88M843 1965.7L941.41 2136.16M843 1965.7L893.94 2155.82M843 1965.7L843 2162.53M843 1965.7L792.06 2155.82M843 1965.7L744.59 2136.16M843 1965.7L703.82 2104.88M843 1965.7L672.54 2064.12M843 1965.7L652.88 2016.64M843 1965.7L646.17 1965.7M843 1965.7L652.88 1914.76M843 1965.7L672.54 1867.29M843 1965.7L703.82 1826.52M843 1965.7L744.58 1795.24M843 1965.7L792.06 1775.58"/></g>
<path class="gm" d="M843 1965.7L868.69 1770.55M843 1965.7L918.32 1783.85M843 1965.7L962.82 1809.54M843 1965.7L999.16 1845.88M843 1965.7L1024.85 1890.38M843 1965.7L1038.15 1940.01M843 1965.7L1038.15 1991.39M843 1965.7L1024.85 2041.02M843 1965.7L999.16 2085.52M843 1965.7L962.82 2121.86M843 1965.7L918.32 2147.55M843 1965.7L868.69 2160.85M843 1965.7L817.31 2160.85M843 1965.7L767.68 2147.55M843 1965.7L723.18 2121.86M843 1965.7L686.84 2085.52M843 1965.7L661.15 2041.02M843 1965.7L647.85 1991.39M843 1965.7L647.85 1940.01M843 1965.7L661.15 1890.38M843 1965.7L686.84 1845.88M843 1965.7L723.18 1809.54M843 1965.7L767.68 1783.85M843 1965.7L817.31 1770.55"/>
<path fill="#E69F00" d="M843 1927.9A37.8 37.8 0 0 1 852.78 1929.19L851.9 1932.47A34.4 34.4 0 0 1 860.2 1935.91L862.5 1931.93A39 39 0 0 1 870.58 1938.12L872.27 1936.43A41.4 41.4 0 0 1 878.85 1945L889.16 1939.05A53.3 53.3 0 0 1 894.48 1951.9L895.16 1951.72A54 54 0 0 1 897 1965.7L897.9 1965.7A54.9 54.9 0 0 1 896.03 1979.91L893.23 1979.16A52 52 0 0 1 888.03 1991.7L891.32 1993.6A55.8 55.8 0 0 1 882.46 2005.16L887.55 2010.25A63 63 0 0 1 874.5 2020.26L872.55 2016.88A59.1 59.1 0 0 1 858.3 2022.79L859.44 2027.04A63.5 63.5 0 0 1 843 2029.2L843 2038.6A72.9 72.9 0 0 1 824.13 2036.12L822.81 2041.04A78 78 0 0 1 804 2033.25L803.85 2033.51A78.3 78.3 0 0 1 787.63 2021.07L790.11 2018.59A74.8 74.8 0 0 1 778.22 2003.1L796.32 1992.65A53.9 53.9 0 0 1 790.94 1979.65L791.32 1979.55A53.5 53.5 0 0 1 789.5 1965.7L797.6 1965.7A45.4 45.4 0 0 1 799.15 1953.95L796.64 1953.28A48 48 0 0 1 801.43 1941.7L800.82 1941.35A48.7 48.7 0 0 1 808.56 1931.26L808.42 1931.12A48.9 48.9 0 0 1 818.55 1923.35L820.7 1927.08A44.6 44.6 0 0 1 831.46 1922.62L830.34 1918.47A48.9 48.9 0 0 1 843 1916.8L843 1965.7Z"/>
<path fill="#56B4E9" d="M843 1941.7A24 24 0 0 1 849.21 1942.52L847.92 1947.35A19 19 0 0 1 852.5 1949.25L852.7 1948.9A19.4 19.4 0 0 1 856.72 1951.98L858.91 1949.79A22.5 22.5 0 0 1 862.49 1954.45L869.41 1950.45A30.5 30.5 0 0 1 872.46 1957.81L873.91 1957.42A32 32 0 0 1 875 1965.7L878.1 1965.7A35.1 35.1 0 0 1 876.9 1974.78L874.49 1974.14A32.6 32.6 0 0 1 871.23 1982L874.35 1983.8A36.2 36.2 0 0 1 868.6 1991.3L869.73 1992.43A37.8 37.8 0 0 1 861.9 1998.44L860.55 1996.1A35.1 35.1 0 0 1 852.08 1999.6L852.89 2002.6A38.2 38.2 0 0 1 843 2003.9L843 2011.6A45.9 45.9 0 0 1 831.12 2010.04L830.63 2011.87A47.8 47.8 0 0 1 819.1 2007.1L817.35 2010.13A51.3 51.3 0 0 1 806.73 2001.97L811.18 1997.52A45 45 0 0 1 804.03 1988.2L815.03 1981.85A32.3 32.3 0 0 1 811.8 1974.06L813.54 1973.59A30.5 30.5 0 0 1 812.5 1965.7L820.4 1965.7A22.6 22.6 0 0 1 821.17 1959.85L819.62 1959.44A24.2 24.2 0 0 1 822.04 1953.6L818.75 1951.7A28 28 0 0 1 823.2 1945.9L823.2 1945.9A28 28 0 0 1 829 1941.45L830.05 1943.27A25.9 25.9 0 0 1 836.3 1940.68L835.75 1938.65A28 28 0 0 1 843 1937.7L843 1965.7Z"/>
<path fill="#009E73" d="M843 1951.9A13.8 13.8 0 0 1 846.57 1952.37L846.47 1952.76A13.4 13.4 0 0 1 849.7 1954.1L849.3 1954.79A12.6 12.6 0 0 1 851.91 1956.79L852.4 1956.3A13.3 13.3 0 0 1 854.52 1959.05L857.72 1957.2A17 17 0 0 1 859.42 1961.3L864.06 1960.06A21.8 21.8 0 0 1 864.8 1965.7L869.8 1965.7A26.8 26.8 0 0 1 868.89 1972.64L870.63 1973.1A28.6 28.6 0 0 1 867.77 1980L866.04 1979A26.6 26.6 0 0 1 861.81 1984.51L860.11 1982.81A24.2 24.2 0 0 1 855.1 1986.66L856 1988.22A26 26 0 0 1 849.73 1990.81L849.94 1991.59A26.8 26.8 0 0 1 843 1992.5L843 1994.1A28.4 28.4 0 0 1 835.65 1993.13L835.29 1994.48A29.8 29.8 0 0 1 828.1 1991.51L827.8 1992.03A30.4 30.4 0 0 1 821.5 1987.2L825.46 1983.24A24.8 24.8 0 0 1 821.52 1978.1L822.99 1977.25A23.1 23.1 0 0 1 820.69 1971.68L821.17 1971.55A22.6 22.6 0 0 1 820.4 1965.7L826.6 1965.7A16.4 16.4 0 0 1 827.16 1961.46L825.61 1961.04A18 18 0 0 1 827.41 1956.7L828.28 1957.2A17 17 0 0 1 830.98 1953.68L833.1 1955.8A14 14 0 0 1 836 1953.58L836.05 1953.66A13.9 13.9 0 0 1 839.4 1952.27L839.43 1952.37A13.8 13.8 0 0 1 843 1951.9L843 1965.7Z"/>
<text class="th" transform="translate(843,1778.97) scale(1,1.04)">0</text><text class="th" transform="translate(893.94,1785.68) scale(1,1.04)">1</text><text class="th" transform="translate(941.41,1805.34) scale(1,1.04)">2</text><text class="th" transform="translate(982.18,1836.62) scale(1,1.04)">3</text><text class="th" transform="translate(1013.46,1877.38) scale(1,1.04)">4</text><text class="th" transform="translate(1033.12,1924.86) scale(1,1.04)">5</text><text class="th" transform="translate(1039.83,1975.8) scale(1,1.04)">6</text><text class="th" transform="translate(1033.12,2026.74) scale(1,1.04)">7</text><text class="th" transform="translate(1013.46,2074.21) scale(1,1.04)">8</text><text class="th" transform="translate(982.18,2114.98) scale(1,1.04)">9</text><text class="th" transform="translate(941.41,2146.26) scale(1,1.04)">10</text><text class="th" transform="translate(893.94,2165.92) scale(1,1.04)">11</text><text class="th" transform="translate(843,2172.63) scale(1,1.04)">12</text><text class="th" transform="translate(792.06,2165.92) scale(1,1.04)">13</text><text class="th" transform="translate(744.59,2146.26) scale(1,1.04)">14</text><text class="th" transform="translate(703.82,2114.98) scale(1,1.04)">15</text><text class="th" transform="translate(672.54,2074.22) scale(1,1.04)">16</text><text class="th" transform="translate(652.88,2026.74) scale(1,1.04)">17</text><text class="th" transform="translate(646.17,1975.8) scale(1,1.04)">18</text><text class="th" transform="translate(652.88,1924.86) scale(1,1.04)">19</text><text class="th" transform="translate(672.54,1877.38) scale(1,1.04)">20</text><text class="th" transform="translate(703.82,1836.62) scale(1,1.04)">21</text><text class="th" transform="translate(744.58,1805.34) scale(1,1.04)">22</text><text class="th" transform="translate(792.06,1785.68) scale(1,1.04)">23</text>
<rect class="bd" x="624.3" y="1747" width="437.4" height="437.4"/>
<text class="st" transform="translate(841.8,1730.4) scale(1,1.06)">GS11</text>
</g>
<text class="at" transform="translate(780.3,2271) scale(1,1.05)">Time of day</text>
<text class="at" transform="translate(31,1095.5) rotate(-90) scale(1,1.05)">Frequency</text>
<rect x="1202.2" y="1861.7" width="45.9" height="70.5" fill="#E69F00"/><text class="lg" transform="translate(1260,1889.9) scale(1,1.03)">state 1</text><text class="lg" transform="translate(1260,1929.5) scale(1,1.03)">(foraging)</text>
<rect x="1202.2" y="1935.7" width="45.9" height="70.5" fill="#56B4E9"/><text class="lg" transform="translate(1260,1963.9) scale(1,1.03)">state 2</text><text class="lg" transform="translate(1260,2003.5) scale(1,1.03)">(resting)</text>
<rect x="1202.2" y="2009.7" width="45.9" height="70.5" fill="#009E73"/><text class="lg" transform="translate(1260,2037.9) scale(1,1.03)">state 3</text><text class="lg" transform="translate(1260,2077.5) scale(1,1.03)">(traveling)</text>
</svg>
</body></html>
